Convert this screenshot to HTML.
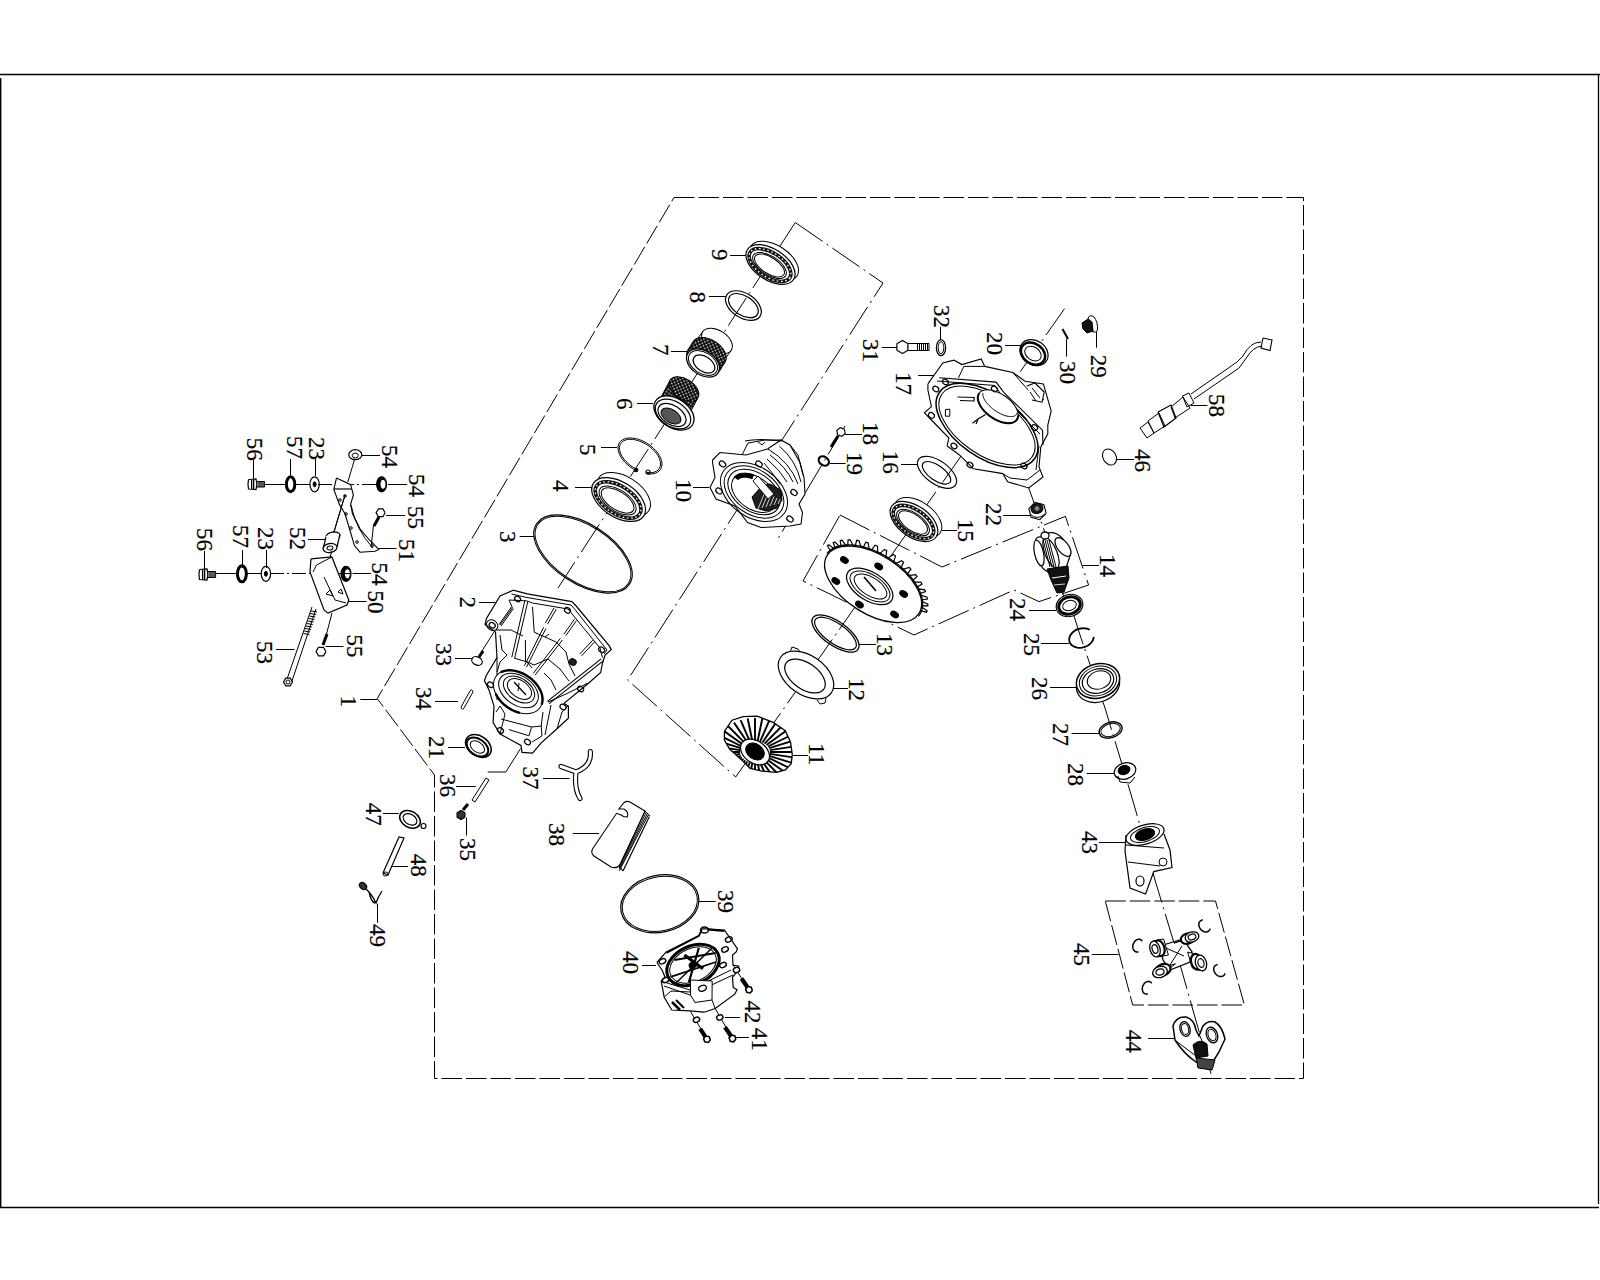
<!DOCTYPE html>
<html><head><meta charset="utf-8"><style>
html,body{margin:0;padding:0;background:#fff;width:1600px;height:1280px;overflow:hidden}
svg{display:block}
text{font-family:"Liberation Serif",serif;fill:#000}
</style></head><body>
<svg width="1600" height="1280" viewBox="0 0 1600 1280" stroke-linecap="butt">
<defs><pattern id="knurl" width="3" height="3" patternUnits="userSpaceOnUse" patternTransform="rotate(33)"><rect width="3" height="3" fill="#000"/><circle cx="1.5" cy="1.5" r="0.85" fill="#fff"/></pattern></defs>
<line x1="0" y1="74.5" x2="1600" y2="74.5" stroke="#000" stroke-width="1.3"/>
<line x1="1598.5" y1="74" x2="1598.5" y2="1204" stroke="#000" stroke-width="1.3"/>
<line x1="0.7" y1="78" x2="0.7" y2="1207" stroke="#000" stroke-width="1.4"/>
<line x1="0" y1="1207.5" x2="1599" y2="1207.5" stroke="#000" stroke-width="1.3"/>
<polyline points="674,197.5 1303.5,197.5 1303.5,1078.5 434.5,1078.5 434.5,775 377.2,698.5 674,197.5" fill="none" stroke="#000" stroke-width="1" stroke-dasharray="20.5 4"/>
<polyline points="795.3,222.5 883,283 627.6,680 735.7,777" fill="none" stroke="#000" stroke-width="1" stroke-dasharray="33 5 2 5"/>
<line x1="795.3" y1="222.5" x2="558" y2="588" stroke="#000" stroke-width="1" stroke-dasharray="33 5 2 5"/>
<line x1="735.7" y1="777" x2="1064.5" y2="308.7" stroke="#000" stroke-width="1" stroke-dasharray="33 5 2 5"/>
<line x1="845" y1="426" x2="776" y2="542" stroke="#000" stroke-width="1" stroke-dasharray="33 5 2 5"/>
<polyline points="1028,486 1037,511 1045,532.5 1061.8,592 1074,616 1080,635 1095,679 1105,708 1126.9,780.6 1139.4,823.1 1155,880 1173.1,940 1211,1073.8" fill="none" stroke="#000" stroke-width="1" stroke-dasharray="33 5 2 5"/>
<polyline points="840,515 942,567 1065.4,516.3 1088.6,585 1039,601.6 1014,590 914,635 803,581 840,515" fill="none" stroke="#000" stroke-width="1" stroke-dasharray="33 5 2 5"/>
<polyline points="1105.3,901 1215.5,901 1244.4,1005 1132.7,1005 1105.3,901" fill="none" stroke="#000" stroke-width="1" stroke-dasharray="20.5 4"/>
<text transform="translate(340.6,695.6) rotate(90)" font-size="23" stroke="#000" stroke-width="0.2">1</text>
<line x1="360.3" y1="699.5" x2="377.2" y2="699.5" stroke="#000" stroke-width="1"/>
<text transform="translate(459.5,596.5) rotate(90)" font-size="23" stroke="#000" stroke-width="0.2">2</text>
<line x1="479" y1="602.5" x2="495.5" y2="602.5" stroke="#000" stroke-width="1"/>
<text transform="translate(500,531) rotate(90)" font-size="23" stroke="#000" stroke-width="0.2">3</text>
<line x1="519.7" y1="536.5" x2="534.7" y2="536.5" stroke="#000" stroke-width="1"/>
<text transform="translate(552.5,480) rotate(90)" font-size="23" stroke="#000" stroke-width="0.2">4</text>
<line x1="575" y1="487.5" x2="592" y2="487.5" stroke="#000" stroke-width="1"/>
<text transform="translate(580,444) rotate(90)" font-size="23" stroke="#000" stroke-width="0.2">5</text>
<line x1="601" y1="447.5" x2="617" y2="447.5" stroke="#000" stroke-width="1"/>
<text transform="translate(617,398) rotate(90)" font-size="23" stroke="#000" stroke-width="0.2">6</text>
<line x1="637" y1="403.5" x2="653" y2="403.5" stroke="#000" stroke-width="1"/>
<text transform="translate(653,344) rotate(90)" font-size="23" stroke="#000" stroke-width="0.2">7</text>
<line x1="671" y1="351.5" x2="688" y2="351.5" stroke="#000" stroke-width="1"/>
<text transform="translate(690,291.5) rotate(90)" font-size="23" stroke="#000" stroke-width="0.2">8</text>
<line x1="708.8" y1="296.5" x2="725.6" y2="296.5" stroke="#000" stroke-width="1"/>
<text transform="translate(711.6,249) rotate(90)" font-size="23" stroke="#000" stroke-width="0.2">9</text>
<line x1="730" y1="255.5" x2="747" y2="255.5" stroke="#000" stroke-width="1"/>
<text transform="translate(676,479) rotate(90)" font-size="23" stroke="#000" stroke-width="0.2">10</text>
<line x1="693" y1="487.5" x2="709" y2="487.5" stroke="#000" stroke-width="1"/>
<text transform="translate(808.8,743) rotate(90)" font-size="23" stroke="#000" stroke-width="0.2">11</text>
<line x1="792.6" y1="755.5" x2="808" y2="755.5" stroke="#000" stroke-width="1"/>
<text transform="translate(849,678) rotate(90)" font-size="23" stroke="#000" stroke-width="0.2">12</text>
<line x1="833" y1="688.5" x2="848" y2="688.5" stroke="#000" stroke-width="1"/>
<text transform="translate(877,633) rotate(90)" font-size="23" stroke="#000" stroke-width="0.2">13</text>
<line x1="859" y1="644.5" x2="876" y2="644.5" stroke="#000" stroke-width="1"/>
<text transform="translate(1100,554) rotate(90)" font-size="23" stroke="#000" stroke-width="0.2">14</text>
<line x1="1082.5" y1="565.5" x2="1099" y2="565.5" stroke="#000" stroke-width="1"/>
<text transform="translate(958,519) rotate(90)" font-size="23" stroke="#000" stroke-width="0.2">15</text>
<line x1="942" y1="530.5" x2="957" y2="530.5" stroke="#000" stroke-width="1"/>
<text transform="translate(883,450.7) rotate(90)" font-size="23" stroke="#000" stroke-width="0.2">16</text>
<line x1="901" y1="464.5" x2="917.4" y2="464.5" stroke="#000" stroke-width="1"/>
<text transform="translate(896,372) rotate(90)" font-size="23" stroke="#000" stroke-width="0.2">17</text>
<line x1="918" y1="375.5" x2="934.5" y2="375.5" stroke="#000" stroke-width="1"/>
<text transform="translate(863,422) rotate(90)" font-size="23" stroke="#000" stroke-width="0.2">18</text>
<line x1="845" y1="434.5" x2="862" y2="434.5" stroke="#000" stroke-width="1"/>
<text transform="translate(847,452) rotate(90)" font-size="23" stroke="#000" stroke-width="0.2">19</text>
<line x1="830" y1="463.5" x2="845.6" y2="463.5" stroke="#000" stroke-width="1"/>
<text transform="translate(986.5,332) rotate(90)" font-size="23" stroke="#000" stroke-width="0.2">20</text>
<line x1="1005" y1="345.5" x2="1020.6" y2="345.5" stroke="#000" stroke-width="1"/>
<text transform="translate(428.8,736) rotate(90)" font-size="23" stroke="#000" stroke-width="0.2">21</text>
<line x1="448" y1="747.5" x2="465" y2="747.5" stroke="#000" stroke-width="1"/>
<text transform="translate(986,503) rotate(90)" font-size="23" stroke="#000" stroke-width="0.2">22</text>
<line x1="1003" y1="515.5" x2="1030" y2="515.5" stroke="#000" stroke-width="1"/>
<text transform="translate(1010,598) rotate(90)" font-size="23" stroke="#000" stroke-width="0.2">24</text>
<line x1="1029" y1="610.5" x2="1056" y2="610.5" stroke="#000" stroke-width="1"/>
<text transform="translate(1024,633) rotate(90)" font-size="23" stroke="#000" stroke-width="0.2">25</text>
<line x1="1041" y1="643.5" x2="1069" y2="643.5" stroke="#000" stroke-width="1"/>
<text transform="translate(1032,677) rotate(90)" font-size="23" stroke="#000" stroke-width="0.2">26</text>
<line x1="1050" y1="687.5" x2="1077" y2="687.5" stroke="#000" stroke-width="1"/>
<text transform="translate(1053,723) rotate(90)" font-size="23" stroke="#000" stroke-width="0.2">27</text>
<line x1="1071.5" y1="733.5" x2="1099" y2="733.5" stroke="#000" stroke-width="1"/>
<text transform="translate(1068,763) rotate(90)" font-size="23" stroke="#000" stroke-width="0.2">28</text>
<line x1="1086.7" y1="773.5" x2="1115" y2="773.5" stroke="#000" stroke-width="1"/>
<text transform="translate(863,339) rotate(90)" font-size="23" stroke="#000" stroke-width="0.2">31</text>
<line x1="881.7" y1="347.5" x2="897" y2="347.5" stroke="#000" stroke-width="1"/>
<text transform="translate(436,643) rotate(90)" font-size="23" stroke="#000" stroke-width="0.2">33</text>
<line x1="455" y1="658.5" x2="472" y2="658.5" stroke="#000" stroke-width="1"/>
<text transform="translate(415.6,687) rotate(90)" font-size="23" stroke="#000" stroke-width="0.2">34</text>
<line x1="435" y1="701.5" x2="458" y2="701.5" stroke="#000" stroke-width="1"/>
<text transform="translate(440,774) rotate(90)" font-size="23" stroke="#000" stroke-width="0.2">36</text>
<line x1="456" y1="786.5" x2="475.6" y2="786.5" stroke="#000" stroke-width="1"/>
<text transform="translate(522.7,766.6) rotate(90)" font-size="23" stroke="#000" stroke-width="0.2">37</text>
<line x1="543" y1="778.5" x2="569.5" y2="778.5" stroke="#000" stroke-width="1"/>
<text transform="translate(549,823) rotate(90)" font-size="23" stroke="#000" stroke-width="0.2">38</text>
<line x1="572.7" y1="833.5" x2="599" y2="833.5" stroke="#000" stroke-width="1"/>
<text transform="translate(718,890) rotate(90)" font-size="23" stroke="#000" stroke-width="0.2">39</text>
<line x1="699" y1="901.5" x2="715.6" y2="901.5" stroke="#000" stroke-width="1"/>
<text transform="translate(622.7,951) rotate(90)" font-size="23" stroke="#000" stroke-width="0.2">40</text>
<line x1="642" y1="965.5" x2="656" y2="965.5" stroke="#000" stroke-width="1"/>
<text transform="translate(752.3,1027.8) rotate(90)" font-size="23" stroke="#000" stroke-width="0.2">41</text>
<line x1="734" y1="1037.5" x2="749" y2="1037.5" stroke="#000" stroke-width="1"/>
<text transform="translate(744.5,1000.4) rotate(90)" font-size="23" stroke="#000" stroke-width="0.2">42</text>
<line x1="725" y1="1017.5" x2="740" y2="1017.5" stroke="#000" stroke-width="1"/>
<text transform="translate(1081.6,831) rotate(90)" font-size="23" stroke="#000" stroke-width="0.2">43</text>
<line x1="1099" y1="842.5" x2="1126" y2="842.5" stroke="#000" stroke-width="1"/>
<text transform="translate(1125.6,1029.8) rotate(90)" font-size="23" stroke="#000" stroke-width="0.2">44</text>
<line x1="1148" y1="1038.5" x2="1174" y2="1038.5" stroke="#000" stroke-width="1"/>
<text transform="translate(1074,943) rotate(90)" font-size="23" stroke="#000" stroke-width="0.2">45</text>
<line x1="1092" y1="954.5" x2="1118.6" y2="954.5" stroke="#000" stroke-width="1"/>
<text transform="translate(1135,449) rotate(90)" font-size="23" stroke="#000" stroke-width="0.2">46</text>
<line x1="1117" y1="459.5" x2="1134" y2="459.5" stroke="#000" stroke-width="1"/>
<text transform="translate(365.5,802.7) rotate(90)" font-size="23" stroke="#000" stroke-width="0.2">47</text>
<line x1="382.8" y1="813.5" x2="398.8" y2="813.5" stroke="#000" stroke-width="1"/>
<text transform="translate(411,853.7) rotate(90)" font-size="23" stroke="#000" stroke-width="0.2">48</text>
<line x1="391" y1="866.5" x2="408" y2="866.5" stroke="#000" stroke-width="1"/>
<text transform="translate(368.4,590.5) rotate(90)" font-size="23" stroke="#000" stroke-width="0.2">50</text>
<line x1="347.8" y1="601.5" x2="366.6" y2="601.5" stroke="#000" stroke-width="1"/>
<text transform="translate(398.5,539) rotate(90)" font-size="23" stroke="#000" stroke-width="0.2">51</text>
<line x1="378.8" y1="548.5" x2="396.5" y2="548.5" stroke="#000" stroke-width="1"/>
<text transform="translate(290,527) rotate(90)" font-size="23" stroke="#000" stroke-width="0.2">52</text>
<line x1="308" y1="539.5" x2="325" y2="539.5" stroke="#000" stroke-width="1"/>
<text transform="translate(257,641) rotate(90)" font-size="23" stroke="#000" stroke-width="0.2">53</text>
<line x1="276" y1="649.5" x2="294.4" y2="649.5" stroke="#000" stroke-width="1"/>
<text transform="translate(381.6,445) rotate(90)" font-size="23" stroke="#000" stroke-width="0.2">54</text>
<line x1="362" y1="455.5" x2="380" y2="455.5" stroke="#000" stroke-width="1"/>
<text transform="translate(408.8,474) rotate(90)" font-size="23" stroke="#000" stroke-width="0.2">54</text>
<line x1="388" y1="484.5" x2="407" y2="484.5" stroke="#000" stroke-width="1"/>
<text transform="translate(372,562.4) rotate(90)" font-size="23" stroke="#000" stroke-width="0.2">54</text>
<line x1="352.5" y1="573.5" x2="370" y2="573.5" stroke="#000" stroke-width="1"/>
<text transform="translate(408,506) rotate(90)" font-size="23" stroke="#000" stroke-width="0.2">55</text>
<line x1="386" y1="515.5" x2="405" y2="515.5" stroke="#000" stroke-width="1"/>
<text transform="translate(347,634.6) rotate(90)" font-size="23" stroke="#000" stroke-width="0.2">55</text>
<line x1="325.6" y1="646.5" x2="343.4" y2="646.5" stroke="#000" stroke-width="1"/>
<text transform="translate(1209,394) rotate(90)" font-size="23" stroke="#000" stroke-width="0.2">58</text>
<line x1="1191" y1="405.5" x2="1207.5" y2="405.5" stroke="#000" stroke-width="1"/>
<text transform="translate(1091,354.8) rotate(90)" font-size="23" stroke="#000" stroke-width="0.2">29</text>
<line x1="1096.5" y1="331" x2="1096.5" y2="347.7" stroke="#000" stroke-width="1"/>
<text transform="translate(1059.6,361) rotate(90)" font-size="23" stroke="#000" stroke-width="0.2">30</text>
<line x1="1066.5" y1="339" x2="1066.5" y2="356.6" stroke="#000" stroke-width="1"/>
<text transform="translate(933.7,305) rotate(90)" font-size="23" stroke="#000" stroke-width="0.2">32</text>
<line x1="940.5" y1="326.6" x2="940.5" y2="340" stroke="#000" stroke-width="1"/>
<text transform="translate(460,838) rotate(90)" font-size="23" stroke="#000" stroke-width="0.2">35</text>
<line x1="466.5" y1="817.6" x2="466.5" y2="835.6" stroke="#000" stroke-width="1"/>
<text transform="translate(369.7,924) rotate(90)" font-size="23" stroke="#000" stroke-width="0.2">49</text>
<line x1="377.5" y1="903.6" x2="377.5" y2="922.7" stroke="#000" stroke-width="1"/>
<text transform="translate(246.6,437.8) rotate(90)" font-size="23" stroke="#000" stroke-width="0.2">56</text>
<line x1="253.5" y1="460" x2="253.5" y2="480" stroke="#000" stroke-width="1"/>
<text transform="translate(287,436) rotate(90)" font-size="23" stroke="#000" stroke-width="0.2">57</text>
<line x1="290.5" y1="459" x2="290.5" y2="476" stroke="#000" stroke-width="1"/>
<text transform="translate(309,437) rotate(90)" font-size="23" stroke="#000" stroke-width="0.2">23</text>
<line x1="315.5" y1="459" x2="315.5" y2="476" stroke="#000" stroke-width="1"/>
<text transform="translate(197,528) rotate(90)" font-size="23" stroke="#000" stroke-width="0.2">56</text>
<line x1="204.5" y1="551" x2="204.5" y2="570" stroke="#000" stroke-width="1"/>
<text transform="translate(232.5,525) rotate(90)" font-size="23" stroke="#000" stroke-width="0.2">57</text>
<line x1="242.5" y1="550" x2="242.5" y2="568" stroke="#000" stroke-width="1"/>
<text transform="translate(257.8,527) rotate(90)" font-size="23" stroke="#000" stroke-width="0.2">23</text>
<line x1="266.5" y1="550" x2="266.5" y2="568" stroke="#000" stroke-width="1"/>
<ellipse cx="774" cy="261" rx="27.5" ry="15.5" fill="#fff" stroke="#000" stroke-width="1" transform="rotate(33 774 261)"/>
<ellipse cx="770.5" cy="264.5" rx="27.5" ry="15.5" fill="#fff" stroke="#000" stroke-width="1.2" transform="rotate(33 770.5 264.5)"/>
<ellipse cx="770" cy="265" rx="23.6" ry="12.2" fill="none" stroke="#111" stroke-width="3.6" transform="rotate(33 770 265)"/>
<ellipse cx="770" cy="265" rx="23.6" ry="12.2" fill="none" stroke="#fff" stroke-width="1.3" stroke-dasharray="1.6 2.6" transform="rotate(33 770 265)"/>
<ellipse cx="769.5" cy="265.5" rx="19.2" ry="9.3" fill="none" stroke="#000" stroke-width="1" transform="rotate(33 769.5 265.5)"/>
<ellipse cx="769.5" cy="265.5" rx="17.1" ry="8.1" fill="none" stroke="#000" stroke-width="1" transform="rotate(33 769.5 265.5)"/>
<ellipse cx="743.4" cy="305.6" rx="19.8" ry="12.2" fill="none" stroke="#000" stroke-width="1.2" transform="rotate(33 743.4 305.6)"/>
<ellipse cx="743.4" cy="305.6" rx="16.6" ry="9.6" fill="none" stroke="#000" stroke-width="1.2" transform="rotate(33 743.4 305.6)"/>
<ellipse cx="709" cy="352" rx="17" ry="10.5" fill="#fff" stroke="#000" stroke-width="1" transform="rotate(33 709 352)"/>
<polygon points="731.3,350.3 723.3,361.3 694.7,342.7 702.7,331.7" fill="#fff" stroke="none"/>
<line x1="731.3" y1="350.3" x2="723.3" y2="361.3" stroke="#000" stroke-width="1"/>
<line x1="702.7" y1="331.7" x2="694.7" y2="342.7" stroke="#000" stroke-width="1"/>
<ellipse cx="717" cy="341" rx="17" ry="10.5" fill="#fff" stroke="#000" stroke-width="1" transform="rotate(33 717 341)"/>
<ellipse cx="704" cy="360" rx="19" ry="12" fill="url(#knurl)" stroke="#000" stroke-width="1" transform="rotate(33 704 360)"/>
<polygon points="724.9,362.3 719.9,370.3 688.1,349.7 693.1,341.7" fill="url(#knurl)" stroke="none"/>
<line x1="724.9" y1="362.3" x2="719.9" y2="370.3" stroke="#000" stroke-width="1"/>
<line x1="693.1" y1="341.7" x2="688.1" y2="349.7" stroke="#000" stroke-width="1"/>
<ellipse cx="709" cy="352" rx="19" ry="12" fill="url(#knurl)" stroke="#000" stroke-width="1" transform="rotate(33 709 352)"/>
<ellipse cx="703" cy="363" rx="18" ry="12" fill="#fff" stroke="#000" stroke-width="1.3" transform="rotate(33 703 363)"/>
<ellipse cx="703" cy="363" rx="16" ry="10.5" fill="none" stroke="#000" stroke-width="1" transform="rotate(33 703 363)"/>
<ellipse cx="704" cy="364" rx="12" ry="7.5" fill="none" stroke="#000" stroke-width="1.2" transform="rotate(33 704 364)"/>
<ellipse cx="676" cy="404" rx="16.5" ry="10" fill="url(#knurl)" stroke="#000" stroke-width="1" transform="rotate(33 676 404)"/>
<polygon points="697.8,398 689.8,413 662.2,395 670.2,380" fill="url(#knurl)" stroke="none"/>
<line x1="697.8" y1="398" x2="689.8" y2="413" stroke="#000" stroke-width="1"/>
<line x1="670.2" y1="380" x2="662.2" y2="395" stroke="#000" stroke-width="1"/>
<ellipse cx="684" cy="389" rx="16.5" ry="10" fill="url(#knurl)" stroke="#000" stroke-width="1" transform="rotate(33 684 389)"/>
<ellipse cx="674" cy="413" rx="22" ry="14.5" fill="#fff" stroke="#000" stroke-width="1.3" transform="rotate(33 674 413)"/>
<ellipse cx="673" cy="414" rx="19.5" ry="12.5" fill="none" stroke="#000" stroke-width="1.2" transform="rotate(33 673 414)"/>
<ellipse cx="672" cy="415" rx="15.5" ry="9.5" fill="none" stroke="#000" stroke-width="1.2" transform="rotate(33 672 415)"/>
<ellipse cx="671" cy="416" rx="11" ry="6.5" fill="#555" stroke="#000" stroke-width="1" transform="rotate(33 671 416)"/>
<polyline points="635.8,470.3 632.7,468.6 629.8,466.6 627.1,464.4 624.7,462 622.6,459.5 620.8,456.9 619.5,454.3 618.5,451.7 618.1,449.3 618,446.9 618.5,444.8 619.3,442.9 620.6,441.2 622.3,439.9 624.4,438.9 626.8,438.2 629.4,438 632.3,438.1 635.3,438.5 638.5,439.3 641.6,440.5 644.8,442 647.8,443.8 650.7,445.8 653.3,448.1 655.7,450.5 657.8,453 659.4,455.6 660.7,458.2 661.6,460.7 662,463.2 661.9,465.5 661.4,467.6 660.5,469.4 659.1,471 657.3,472.3 655.2,473.3 652.8,473.8 650.1,474.1 647.2,473.9" fill="none" stroke="#000" stroke-width="1"/>
<polyline points="636.3,469.1 633.4,467.4 630.7,465.6 628.1,463.5 625.8,461.3 623.8,459 622.2,456.6 620.9,454.2 620,451.8 619.5,449.5 619.4,447.4 619.8,445.4 620.6,443.7 621.8,442.2 623.3,441 625.2,440.1 627.5,439.5 629.9,439.3 632.6,439.4 635.4,439.9 638.4,440.7 641.3,441.8 644.3,443.2 647.1,444.9 649.8,446.8 652.3,448.9 654.5,451.1 656.5,453.5 658.1,455.9 659.3,458.3 660.1,460.6 660.5,462.9 660.5,465 660.1,466.9 659.2,468.6 658,470.1 656.3,471.2 654.4,472.1 652.1,472.6 649.6,472.7 646.9,472.5" fill="none" stroke="#000" stroke-width="1"/>
<ellipse cx="636" cy="470" rx="1.6" ry="1.6" fill="#000" stroke="#000" stroke-width="1.5"/>
<ellipse cx="648" cy="472" rx="2" ry="2" fill="none" stroke="#000" stroke-width="1.2"/>
<ellipse cx="623.6" cy="494.5" rx="30" ry="17.5" fill="#fff" stroke="#000" stroke-width="1" transform="rotate(33 623.6 494.5)"/>
<ellipse cx="618.6" cy="499.5" rx="30" ry="17.5" fill="#fff" stroke="#000" stroke-width="1.2" transform="rotate(33 618.6 499.5)"/>
<ellipse cx="618.1" cy="500" rx="25.8" ry="13.8" fill="none" stroke="#111" stroke-width="3.6" transform="rotate(33 618.1 500)"/>
<ellipse cx="618.1" cy="500" rx="25.8" ry="13.8" fill="none" stroke="#fff" stroke-width="1.3" stroke-dasharray="1.6 2.6" transform="rotate(33 618.1 500)"/>
<ellipse cx="617.6" cy="500.5" rx="21" ry="10.5" fill="none" stroke="#000" stroke-width="1" transform="rotate(33 617.6 500.5)"/>
<ellipse cx="617.6" cy="500.5" rx="18.6" ry="9.1" fill="none" stroke="#000" stroke-width="1" transform="rotate(33 617.6 500.5)"/>
<ellipse cx="583" cy="554" rx="55.4" ry="29.6" fill="none" stroke="#000" stroke-width="1.1" transform="rotate(33 583 554)"/>
<ellipse cx="583" cy="554" rx="54" ry="28.3" fill="none" stroke="#000" stroke-width="1" transform="rotate(33 583 554)"/>
<polyline points="513.2,590.2 527.2,593.8 571.9,601.6 576.2,606 609.5,646.2 611.2,649.7 605.1,655 602.5,663 600.7,672.5 588.5,683.2 564,703.4 568.4,706 568.4,718.2 557,728.8 541.2,742.8 532.5,753.2 522,752.4 521,745.4 500,734 493.1,722.6 494,706 488.8,689.4 484.4,680.6 486,676 497,657.5 495.5,632 485,624.5 486.5,618.5 500,596 513.2,590.2" fill="#fff" stroke="#000" stroke-width="1.2"/>
<polyline points="511.5,594 527,597.5 571,605 575,609.5 607,650 604,654" fill="none" stroke="#000" stroke-width="1"/>
<polyline points="509,600 526.4,600.8 532.5,603 568,609 600,648 602.5,657.6" fill="none" stroke="#000" stroke-width="1"/>
<polyline points="500,625 512.4,607.8 509,600" fill="none" stroke="#000" stroke-width="1"/>
<line x1="524.9" y1="600.4" x2="511.8" y2="657.3" stroke="#000" stroke-width="1"/>
<line x1="527.9" y1="601.1" x2="514.7" y2="657.9" stroke="#000" stroke-width="1"/>
<line x1="554.1" y1="608" x2="545.4" y2="622.9" stroke="#000" stroke-width="1"/>
<line x1="556.3" y1="609.2" x2="547.6" y2="624.1" stroke="#000" stroke-width="1"/>
<line x1="543.6" y1="627.3" x2="524.4" y2="665.8" stroke="#000" stroke-width="1"/>
<line x1="545.9" y1="628.5" x2="526.6" y2="667" stroke="#000" stroke-width="1"/>
<line x1="560.4" y1="638.4" x2="533.2" y2="673.4" stroke="#000" stroke-width="1"/>
<line x1="562.4" y1="640" x2="535.2" y2="675" stroke="#000" stroke-width="1"/>
<line x1="574.4" y1="619.3" x2="563.9" y2="634.2" stroke="#000" stroke-width="1"/>
<line x1="576.4" y1="620.7" x2="565.9" y2="635.6" stroke="#000" stroke-width="1"/>
<line x1="592.8" y1="640.1" x2="579.7" y2="654.1" stroke="#000" stroke-width="1"/>
<line x1="594.6" y1="641.9" x2="581.5" y2="655.9" stroke="#000" stroke-width="1"/>
<line x1="601.1" y1="658.9" x2="547.4" y2="701.4" stroke="#000" stroke-width="1.2"/>
<line x1="602.9" y1="661.1" x2="549.1" y2="703.6" stroke="#000" stroke-width="1.2"/>
<line x1="511.4" y1="607" x2="499.1" y2="624.5" stroke="#000" stroke-width="1"/>
<line x1="513.4" y1="608.5" x2="501.1" y2="626" stroke="#000" stroke-width="1"/>
<polyline points="532.5,606.9 534.2,632.2 545,637 549,634" fill="none" stroke="#000" stroke-width="1"/>
<polyline points="525.4,640 525.5,661 534,665 548,659 560,669 569,681" fill="none" stroke="#000" stroke-width="1"/>
<polyline points="514,658 527,662 532,668" fill="none" stroke="#000" stroke-width="1"/>
<polyline points="545,637 556,642 566,652 569,664 575,676" fill="none" stroke="#000" stroke-width="1"/>
<polyline points="544,673 551,680 556,690" fill="none" stroke="#000" stroke-width="1"/>
<polyline points="500,635 502,650 507,655 500,662 497,672" fill="none" stroke="#000" stroke-width="1"/>
<polyline points="496,630 511,630 523,636" fill="none" stroke="#000" stroke-width="1"/>
<polyline points="497,657.5 497,700" fill="none" stroke="#000" stroke-width="1"/>
<ellipse cx="518" cy="692" rx="27" ry="18.5" fill="#fff" stroke="#000" stroke-width="1" transform="rotate(35 518 692)"/>
<polyline points="500.8,672.3 502,671.7 503.3,671.3 504.6,670.9 506,670.6 507.4,670.4 508.9,670.3 510.4,670.3 511.9,670.4 513.5,670.6 515.1,670.9 516.7,671.3 518.3,671.7 519.9,672.3 521.5,672.9 523.1,673.6 524.6,674.4 526.1,675.2 527.6,676.2 529.1,677.2 530.5,678.3 531.9,679.4 533.1,680.6 534.4,681.8 535.5,683.1 536.6,684.4 537.6,685.7 538.5,687.1 539.4,688.5 540.1,689.9 540.8,691.3 541.3,692.7 541.8,694.1 542.1,695.5 542.4,696.9 542.5,698.3 542.5,699.6 542.5,700.9 542.3,702.2 542,703.4 541.6,704.6" fill="none" stroke="#000" stroke-width="2.4"/>
<polyline points="519.9,712.9 519.1,712.7 518.4,712.5 517.6,712.2 516.9,712 516.1,711.7 515.4,711.5 514.6,711.2 513.9,710.8 513.2,710.5 512.4,710.1 511.7,709.8 511,709.4 510.3,709 509.6,708.6 508.9,708.1 508.2,707.7 507.5,707.2 506.8,706.7 506.2,706.3 505.5,705.7 504.9,705.2 504.2,704.7 503.6,704.2 503,703.6 502.4,703 501.9,702.5 501.3,701.9 500.8,701.3 500.2,700.7 499.7,700.1 499.2,699.5 498.8,698.8 498.3,698.2 497.9,697.6 497.5,696.9 497.1,696.3 496.7,695.6 496.3,695 496,694.3 495.7,693.7" fill="none" stroke="#000" stroke-width="2.4"/>
<ellipse cx="518.5" cy="690.5" rx="22" ry="14.5" fill="none" stroke="#000" stroke-width="1" transform="rotate(35 518.5 690.5)"/>
<ellipse cx="519" cy="689.5" rx="17.5" ry="11" fill="none" stroke="#000" stroke-width="1" transform="rotate(35 519 689.5)"/>
<ellipse cx="519.5" cy="689" rx="13.5" ry="8.5" fill="none" stroke="#000" stroke-width="1" transform="rotate(35 519.5 689)"/>
<line x1="514" y1="682" x2="526" y2="695" stroke="#000" stroke-width="1.3"/>
<line x1="519" y1="683" x2="518" y2="691" stroke="#000" stroke-width="1"/>
<polyline points="501,719 531.6,727 541.2,726 543,712" fill="none" stroke="#000" stroke-width="1"/>
<polyline points="508.9,729.6 529,735.8 531.6,727" fill="none" stroke="#000" stroke-width="1"/>
<polyline points="541.2,726 542,736 532,742" fill="none" stroke="#000" stroke-width="1"/>
<polyline points="496,712 500,706 505,714 500,734" fill="none" stroke="#000" stroke-width="1"/>
<polyline points="548,702 566,694 588,683" fill="none" stroke="#000" stroke-width="1"/>
<polyline points="551,705 545,735" fill="none" stroke="#000" stroke-width="1"/>
<polyline points="557,728.8 562,712 568,706" fill="none" stroke="#000" stroke-width="1"/>
<ellipse cx="517.6" cy="599" rx="3.2" ry="2.5" fill="none" stroke="#000" stroke-width="1.2" transform="rotate(35 517.6 599)"/>
<ellipse cx="567.5" cy="610.4" rx="3.2" ry="2.5" fill="none" stroke="#000" stroke-width="1.2" transform="rotate(35 567.5 610.4)"/>
<ellipse cx="601.6" cy="649.8" rx="3.2" ry="2.5" fill="none" stroke="#000" stroke-width="1.2" transform="rotate(35 601.6 649.8)"/>
<ellipse cx="492.2" cy="625.2" rx="3.2" ry="2.5" fill="none" stroke="#000" stroke-width="1.2" transform="rotate(35 492.2 625.2)"/>
<ellipse cx="490.5" cy="684.8" rx="3.2" ry="2.5" fill="none" stroke="#000" stroke-width="1.2" transform="rotate(35 490.5 684.8)"/>
<ellipse cx="500.5" cy="730.5" rx="3.2" ry="2.5" fill="none" stroke="#000" stroke-width="1.2" transform="rotate(35 500.5 730.5)"/>
<ellipse cx="527.5" cy="742" rx="3.2" ry="2.5" fill="none" stroke="#000" stroke-width="1.2" transform="rotate(35 527.5 742)"/>
<ellipse cx="580.6" cy="689" rx="3.2" ry="2.5" fill="none" stroke="#000" stroke-width="1.2" transform="rotate(35 580.6 689)"/>
<ellipse cx="563" cy="707" rx="3.2" ry="2.5" fill="none" stroke="#000" stroke-width="1.2" transform="rotate(35 563 707)"/>
<ellipse cx="572.8" cy="662" rx="3.5" ry="3" fill="#222" stroke="#000" stroke-width="1.2" transform="rotate(35 572.8 662)"/>
<ellipse cx="492.2" cy="625.2" rx="6" ry="5" fill="none" stroke="#000" stroke-width="1" transform="rotate(35 492.2 625.2)"/>
<polyline points="712.5,460 720,452.5 746,455 755,452.5 767.5,449 781,440 790,445 800,462.5 804,477.5 805,494 799,504 802.5,512.5 801,524 790,526 761,527.5 747.5,522.5 735,506 716,499 710,487.5 715,477.5 712.5,462.5 712.5,460" fill="#fff" stroke="#000" stroke-width="1.1"/>
<polyline points="742,455 748,443 765,440 781,440" fill="none" stroke="#000" stroke-width="1"/>
<polyline points="790,445 798,455 803,475" fill="none" stroke="#000" stroke-width="1"/>
<ellipse cx="754" cy="492" rx="37" ry="25" fill="none" stroke="#000" stroke-width="1" transform="rotate(35 754 492)"/>
<ellipse cx="754" cy="492" rx="33" ry="22" fill="none" stroke="#000" stroke-width="1" transform="rotate(35 754 492)"/>
<ellipse cx="754" cy="492" rx="29" ry="19" fill="none" stroke="#000" stroke-width="1" transform="rotate(35 754 492)"/>
<ellipse cx="754" cy="493" rx="25" ry="16" fill="none" stroke="#000" stroke-width="1" transform="rotate(35 754 493)"/>
<path d="M779.4,446.2 Q796,460 801,482" fill="none" stroke="#000" stroke-width="1"/>
<path d="M768,449 Q790,462 798,484" fill="none" stroke="#000" stroke-width="1"/>
<path d="M770,455 Q786,467 793,482" fill="none" stroke="#000" stroke-width="1"/>
<path d="M767,459 Q780,470 787,482" fill="none" stroke="#000" stroke-width="1"/>
<path d="M764,463 Q772,472 780,484" fill="none" stroke="#000" stroke-width="1"/>
<polyline points="745,441 752,440 762,439.5 782,441" fill="none" stroke="#000" stroke-width="1.2"/>
<path d="M758,442 l4,3 l3,-3" fill="none" stroke="#000" stroke-width="1"/>
<polyline points="736.1,478.6 736.3,478.3 736.5,478.1 736.8,477.8 737.1,477.6 737.3,477.3 737.6,477.1 738,476.9 738.3,476.7 738.6,476.5 739,476.3 739.3,476.2 739.7,476 740.1,475.9 740.5,475.7 740.9,475.6 741.3,475.5 741.7,475.4 742.1,475.4 742.6,475.3 743,475.3 743.5,475.2 743.9,475.2 744.4,475.2 744.9,475.2 745.4,475.2 745.9,475.2 746.4,475.3 746.9,475.3 747.4,475.4 747.9,475.5 748.4,475.6 748.9,475.7 749.5,475.8 750,475.9 750.5,476.1 751.1,476.2 751.6,476.4 752.1,476.6 752.7,476.8 753.2,477" fill="none" stroke="#000" stroke-width="5"/>
<line x1="738" y1="479.4" x2="734.1" y2="476.3" stroke="#000" stroke-width="1"/>
<line x1="739.6" y1="478.1" x2="736.2" y2="474.6" stroke="#000" stroke-width="1"/>
<line x1="741.6" y1="477.3" x2="738.7" y2="473.5" stroke="#000" stroke-width="1"/>
<line x1="743.9" y1="476.9" x2="741.7" y2="472.9" stroke="#000" stroke-width="1"/>
<line x1="746.5" y1="476.9" x2="745" y2="472.9" stroke="#000" stroke-width="1"/>
<line x1="749.2" y1="477.4" x2="748.5" y2="473.4" stroke="#000" stroke-width="1"/>
<line x1="752.1" y1="478.2" x2="752.2" y2="474.4" stroke="#000" stroke-width="1"/>
<path d="M752,497 L762,486 L770,484 L781,490 L782,500 L777,508 L766,511 L756,508 Z" fill="#1e1e1e" stroke="#000" stroke-width="1"/>
<line x1="758" y1="509" x2="765" y2="492" stroke="#fff" stroke-width="0.8"/>
<line x1="762" y1="508" x2="768" y2="493.5" stroke="#fff" stroke-width="0.8"/>
<line x1="766" y1="507" x2="771" y2="495" stroke="#fff" stroke-width="0.8"/>
<line x1="770" y1="506" x2="774" y2="496.5" stroke="#fff" stroke-width="0.8"/>
<line x1="774" y1="505" x2="777" y2="498" stroke="#fff" stroke-width="0.8"/>
<line x1="778" y1="504" x2="780" y2="499.5" stroke="#fff" stroke-width="0.8"/>
<polyline points="753,481 758,476 774,494 768,499 753,481" fill="#fff" stroke="#000" stroke-width="1"/>
<ellipse cx="722.5" cy="464" rx="3.5" ry="2.5" fill="none" stroke="#000" stroke-width="1.2" transform="rotate(35 722.5 464)"/>
<ellipse cx="759" cy="464" rx="3.5" ry="2.5" fill="none" stroke="#000" stroke-width="1.2" transform="rotate(35 759 464)"/>
<ellipse cx="719" cy="491" rx="3.5" ry="2.5" fill="none" stroke="#000" stroke-width="1.2" transform="rotate(35 719 491)"/>
<ellipse cx="794" cy="492.5" rx="3.5" ry="2.5" fill="none" stroke="#000" stroke-width="1.2" transform="rotate(35 794 492.5)"/>
<ellipse cx="790" cy="519" rx="3.5" ry="2.5" fill="none" stroke="#000" stroke-width="1.2" transform="rotate(35 790 519)"/>
<polyline points="845.2,433.5 841.8,436.4 837.6,434.9 836.8,430.5 840.2,427.6 844.4,429.1 845.2,433.5" fill="#fff" stroke="#000" stroke-width="1.2"/>
<line x1="838" y1="436" x2="831" y2="447" stroke="#000" stroke-width="3"/>
<ellipse cx="823.8" cy="461" rx="5.5" ry="4.2" fill="none" stroke="#000" stroke-width="2.2" transform="rotate(35 823.8 461)"/>
<polyline points="830.7,551.3 827.4,545.7 828.8,544.8 834.3,548.9 835.3,548.5 833.2,542.5 834.9,541.9 839.8,547 841,546.7 840.2,540.5 842.1,540.2 846.3,546.1 847.7,546 848.1,539.8 850.2,539.8 853.5,546.3 855,546.5 856.7,540.3 859,540.7 861.3,547.6 862.9,548 865.8,542.2 868.1,542.8 869.4,550 871.1,550.6 875.1,545.2 877.5,546.2 877.7,553.3 879.3,554.1 884.4,549.4 886.7,550.6 885.8,557.6 887.4,558.6 893.3,554.6 895.5,556.1 893.5,562.7 895,563.7 901.7,560.7 903.6,562.3 900.7,568.3 902,569.5 909.2,567.4 910.9,569.2 907,574.5 908.2,575.7 915.7,574.7 917.1,576.5 912.4,580.9 913.4,582.2 920.9,582.2 922,584.1 916.6,587.4 917.3,588.7 924.7,589.8 925.5,591.6 919.6,593.8 920.1,595.1 927.1,597.2 927.4,599 921.2,600 921.4,601.2 927.9,604.2 927.8,605.9 921.5,605.7 921.3,606.7 927.1,610.7 926.6,612.2 920.3,610.7 919.9,611.7" fill="none" stroke="#000" stroke-width="1.2"/>
<ellipse cx="873.1" cy="584.3" rx="54.3" ry="29.4" fill="#fff" stroke="#000" stroke-width="1.3" transform="rotate(32.5 873.1 584.3)"/>
<polyline points="826.9,553.6 828.5,551.7 830.4,550.1 832.5,548.6 834.9,547.4 837.6,546.4 840.4,545.6 843.5,545.1 846.8,544.9 850.2,544.9 853.8,545.1 857.5,545.6 861.3,546.4 865.2,547.4 869.1,548.6 873.1,550.1 877,551.7 881,553.6 884.9,555.7 888.7,557.9 892.4,560.4 896,562.9 899.4,565.6 902.7,568.5 905.7,571.4 908.6,574.4 911.3,577.5 913.7,580.6 915.8,583.8 917.7,586.9 919.3,590 920.6,593.1 921.6,596.2 922.3,599.1 922.6,602 922.7,604.8 922.4,607.4 921.9,609.9 921,612.2 919.8,614.3 918.3,616.3" fill="none" stroke="#000" stroke-width="1.2"/>
<ellipse cx="844.4" cy="560" rx="4.2" ry="2.8" fill="#000" stroke="#000" stroke-width="1" transform="rotate(32.5 844.4 560)"/>
<ellipse cx="878.7" cy="566.4" rx="4.2" ry="2.8" fill="#000" stroke="#000" stroke-width="1" transform="rotate(32.5 878.7 566.4)"/>
<ellipse cx="835.8" cy="581" rx="4.2" ry="2.8" fill="#000" stroke="#000" stroke-width="1" transform="rotate(32.5 835.8 581)"/>
<ellipse cx="903.6" cy="593.9" rx="4.2" ry="2.8" fill="#000" stroke="#000" stroke-width="1" transform="rotate(32.5 903.6 593.9)"/>
<ellipse cx="859.4" cy="604.6" rx="4.2" ry="2.8" fill="#000" stroke="#000" stroke-width="1" transform="rotate(32.5 859.4 604.6)"/>
<ellipse cx="894.6" cy="614.5" rx="4.2" ry="2.8" fill="#000" stroke="#000" stroke-width="1" transform="rotate(32.5 894.6 614.5)"/>
<ellipse cx="869.7" cy="586.4" rx="26" ry="14" fill="#fff" stroke="#000" stroke-width="1.2" transform="rotate(32.5 869.7 586.4)"/>
<ellipse cx="870" cy="586.4" rx="22.5" ry="11.5" fill="none" stroke="#000" stroke-width="1" transform="rotate(32.5 870 586.4)"/>
<ellipse cx="870.5" cy="586.5" rx="18.5" ry="9" fill="none" stroke="#000" stroke-width="1" transform="rotate(32.5 870.5 586.5)"/>
<line x1="864" y1="577" x2="876" y2="591" stroke="#000" stroke-width="1.6"/>
<ellipse cx="918" cy="517.5" rx="27" ry="15.5" fill="#fff" stroke="#000" stroke-width="1" transform="rotate(35 918 517.5)"/>
<ellipse cx="914" cy="521.5" rx="27" ry="15.5" fill="#fff" stroke="#000" stroke-width="1.2" transform="rotate(35 914 521.5)"/>
<ellipse cx="913.5" cy="522" rx="23.2" ry="12.2" fill="none" stroke="#111" stroke-width="3.6" transform="rotate(35 913.5 522)"/>
<ellipse cx="913.5" cy="522" rx="23.2" ry="12.2" fill="none" stroke="#fff" stroke-width="1.3" stroke-dasharray="1.6 2.6" transform="rotate(35 913.5 522)"/>
<ellipse cx="913" cy="522.5" rx="18.9" ry="9.3" fill="none" stroke="#000" stroke-width="1" transform="rotate(35 913 522.5)"/>
<ellipse cx="913" cy="522.5" rx="16.7" ry="8.1" fill="none" stroke="#000" stroke-width="1" transform="rotate(35 913 522.5)"/>
<ellipse cx="835.5" cy="633.5" rx="27.5" ry="12" fill="none" stroke="#000" stroke-width="1.3" transform="rotate(35 835.5 633.5)"/>
<ellipse cx="835.5" cy="633.5" rx="24.5" ry="10" fill="none" stroke="#000" stroke-width="1.2" transform="rotate(35 835.5 633.5)"/>
<path d="M790,652 l2,-5 l6,2 l3,4" fill="#fff" stroke="#000" stroke-width="1"/>
<path d="M817,700 l3,4 l5,-1 l1,-5" fill="#fff" stroke="#000" stroke-width="1"/>
<ellipse cx="806" cy="675" rx="31" ry="19.5" fill="#fff" stroke="#000" stroke-width="1.2" transform="rotate(35 806 675)"/>
<ellipse cx="805" cy="676" rx="23" ry="13" fill="none" stroke="#000" stroke-width="1.2" transform="rotate(35 805 676)"/>
<polyline points="724.4,731.4 732,720.2 743.1,716.7 757.2,716.1 773.6,722.6 785.3,730.8 790.6,742.5 792.3,754.8 791.2,763.6 785.3,770 776.5,772.4 761.9,771.2 750.1,768.3 743.1,761.2 729.6,749 724.4,740.1 724.4,731.4" fill="#fff" stroke="#000" stroke-width="1.3"/>
<line x1="740.9" y1="755.8" x2="715.5" y2="763.6" stroke="#000" stroke-width="1.9" clip-path="url(#c11)"/>
<line x1="740.2" y1="753.9" x2="713.6" y2="757.9" stroke="#000" stroke-width="1.9" clip-path="url(#c11)"/>
<line x1="740" y1="752" x2="713" y2="752" stroke="#000" stroke-width="1.9" clip-path="url(#c11)"/>
<line x1="740.2" y1="750.1" x2="713.6" y2="746.1" stroke="#000" stroke-width="1.9" clip-path="url(#c11)"/>
<line x1="740.9" y1="748.2" x2="715.5" y2="740.4" stroke="#000" stroke-width="1.9" clip-path="url(#c11)"/>
<line x1="742" y1="746.5" x2="718.6" y2="735" stroke="#000" stroke-width="1.9" clip-path="url(#c11)"/>
<line x1="743.5" y1="744.9" x2="722.8" y2="730.1" stroke="#000" stroke-width="1.9" clip-path="url(#c11)"/>
<line x1="745.4" y1="743.6" x2="728" y2="726" stroke="#000" stroke-width="1.9" clip-path="url(#c11)"/>
<line x1="747.5" y1="742.5" x2="734" y2="722.6" stroke="#000" stroke-width="1.9" clip-path="url(#c11)"/>
<line x1="749.9" y1="741.7" x2="740.6" y2="720.1" stroke="#000" stroke-width="1.9" clip-path="url(#c11)"/>
<line x1="752.4" y1="741.2" x2="747.7" y2="718.5" stroke="#000" stroke-width="1.9" clip-path="url(#c11)"/>
<line x1="755" y1="741" x2="755" y2="718" stroke="#000" stroke-width="1.9" clip-path="url(#c11)"/>
<line x1="757.6" y1="741.2" x2="762.3" y2="718.5" stroke="#000" stroke-width="1.9" clip-path="url(#c11)"/>
<line x1="760.1" y1="741.7" x2="769.4" y2="720.1" stroke="#000" stroke-width="1.9" clip-path="url(#c11)"/>
<line x1="762.5" y1="742.5" x2="776" y2="722.6" stroke="#000" stroke-width="1.9" clip-path="url(#c11)"/>
<line x1="764.6" y1="743.6" x2="782" y2="726" stroke="#000" stroke-width="1.9" clip-path="url(#c11)"/>
<line x1="766.5" y1="744.9" x2="787.2" y2="730.1" stroke="#000" stroke-width="1.9" clip-path="url(#c11)"/>
<line x1="768" y1="746.5" x2="791.4" y2="735" stroke="#000" stroke-width="1.9" clip-path="url(#c11)"/>
<line x1="769.1" y1="748.2" x2="794.5" y2="740.4" stroke="#000" stroke-width="1.9" clip-path="url(#c11)"/>
<line x1="769.8" y1="750.1" x2="796.4" y2="746.1" stroke="#000" stroke-width="1.9" clip-path="url(#c11)"/>
<line x1="770" y1="752" x2="797" y2="752" stroke="#000" stroke-width="1.9" clip-path="url(#c11)"/>
<line x1="769.8" y1="753.9" x2="796.4" y2="757.9" stroke="#000" stroke-width="1.9" clip-path="url(#c11)"/>
<line x1="769.1" y1="755.8" x2="794.5" y2="763.6" stroke="#000" stroke-width="1.9" clip-path="url(#c11)"/>
<line x1="768" y1="757.5" x2="791.4" y2="769" stroke="#000" stroke-width="1.9" clip-path="url(#c11)"/>
<line x1="766.5" y1="759.1" x2="787.2" y2="773.9" stroke="#000" stroke-width="1.9" clip-path="url(#c11)"/>
<line x1="764.6" y1="760.4" x2="782" y2="778" stroke="#000" stroke-width="1.9" clip-path="url(#c11)"/>
<line x1="762.5" y1="761.5" x2="776" y2="781.4" stroke="#000" stroke-width="1.9" clip-path="url(#c11)"/>
<line x1="760.1" y1="762.3" x2="769.4" y2="783.9" stroke="#000" stroke-width="1.9" clip-path="url(#c11)"/>
<line x1="757.6" y1="762.8" x2="762.3" y2="785.5" stroke="#000" stroke-width="1.9" clip-path="url(#c11)"/>
<line x1="755" y1="763" x2="755" y2="786" stroke="#000" stroke-width="1.9" clip-path="url(#c11)"/>
<line x1="752.4" y1="762.8" x2="747.7" y2="785.5" stroke="#000" stroke-width="1.9" clip-path="url(#c11)"/>
<line x1="749.9" y1="762.3" x2="740.6" y2="783.9" stroke="#000" stroke-width="1.9" clip-path="url(#c11)"/>
<line x1="747.5" y1="761.5" x2="734" y2="781.4" stroke="#000" stroke-width="1.9" clip-path="url(#c11)"/>
<line x1="745.4" y1="760.4" x2="728" y2="778" stroke="#000" stroke-width="1.9" clip-path="url(#c11)"/>
<line x1="743.5" y1="759.1" x2="722.8" y2="773.9" stroke="#000" stroke-width="1.9" clip-path="url(#c11)"/>
<line x1="742" y1="757.5" x2="718.6" y2="769" stroke="#000" stroke-width="1.9" clip-path="url(#c11)"/>
<clipPath id="c11"><polygon points="724.4,731.4 732,720.2 743.1,716.7 757.2,716.1 773.6,722.6 785.3,730.8 790.6,742.5 792.3,754.8 791.2,763.6 785.3,770 776.5,772.4 761.9,771.2 750.1,768.3 743.1,761.2 729.6,749 724.4,740.1"/></clipPath>
<ellipse cx="755" cy="752" rx="16" ry="11" fill="#fff" stroke="#000" stroke-width="1.3" transform="rotate(35 755 752)"/>
<ellipse cx="755" cy="751.5" rx="10" ry="7.5" fill="#000" stroke="#000" stroke-width="1" transform="rotate(35 755 751.5)"/>
<ellipse cx="937" cy="472.3" rx="22.5" ry="11.5" fill="none" stroke="#000" stroke-width="1.2" transform="rotate(35 937 472.3)"/>
<ellipse cx="936.5" cy="472.8" rx="16.5" ry="7.5" fill="none" stroke="#000" stroke-width="1.2" transform="rotate(35 936.5 472.8)"/>
<polyline points="927.9,383.9 942.8,362.9 954,360.2 962,364.6 981.2,359 984.8,366.4 1012.8,372.5 1025,381.2 1043.4,383.9 1051.2,411 1047.8,425 1047.8,433.8 1040.8,446.9 1039,467 1043,477 1028.8,488 1007.6,481.8 1002.8,473.6 973.5,468.8 960.5,455.8 956.8,453 947.1,446 948.9,438 931.4,420 924.4,412.8 931.4,406.6 927.9,390 927.9,383.9" fill="#fff" stroke="#000" stroke-width="1.1"/>
<polyline points="939.2,377.8 996.1,382.1 1004,392.6 1042.5,430.2 1043,445" fill="none" stroke="#000" stroke-width="1.1"/>
<polyline points="937,381 995,385.5 1002,396 1040,434" fill="none" stroke="#000" stroke-width="1"/>
<polyline points="958.5,377.8 963.8,366.4 984.8,366.4" fill="none" stroke="#000" stroke-width="1"/>
<polyline points="1012.8,372.5 1022,383 1030,392 1044,400" fill="none" stroke="#000" stroke-width="1"/>
<ellipse cx="987" cy="425.5" rx="58" ry="31.5" fill="none" stroke="#000" stroke-width="1.5" transform="rotate(35 987 425.5)"/>
<ellipse cx="987" cy="425.5" rx="55" ry="29" fill="none" stroke="#000" stroke-width="1" transform="rotate(35 987 425.5)"/>
<ellipse cx="998" cy="406.5" rx="23" ry="12.5" fill="#fff" stroke="#000" stroke-width="1" transform="rotate(35 998 406.5)"/>
<polyline points="1018.2,415.4 1018.1,416.6 1017.8,417.7 1017.4,418.7 1016.8,419.7 1016.1,420.5 1015.3,421.3 1014.3,421.9 1013.3,422.4 1012,422.8 1010.7,423 1009.3,423.2 1007.8,423.2 1006.3,423.1 1004.6,422.8 1002.9,422.5 1001.2,422 999.5,421.4 997.7,420.6 996,419.8 994.2,418.9 992.5,417.9 990.8,416.7 989.2,415.6 987.7,414.3 986.2,413 984.8,411.6 983.5,410.2 982.4,408.8 981.3,407.3 980.4,405.9 979.6,404.4 979,403 978.5,401.6 978.1,400.2 977.9,398.9 977.8,397.6 977.9,396.4 978.2,395.3 978.6,394.3 979.2,393.3" fill="none" stroke="#000" stroke-width="2"/>
<polyline points="1017,413 1016.8,413.7 1016.5,414.3 1016,414.9 1015.5,415.4 1014.9,415.8 1014.2,416.1 1013.4,416.4 1012.5,416.5 1011.5,416.6 1010.5,416.6 1009.4,416.5 1008.2,416.4 1007,416.1 1005.7,415.8 1004.4,415.4 1003.1,414.9 1001.8,414.3 1000.5,413.7 999.1,413 997.8,412.3 996.4,411.4 995.1,410.6 993.8,409.7 992.6,408.7 991.4,407.7 990.3,406.7 989.2,405.7 988.2,404.6 987.2,403.5 986.4,402.5 985.6,401.4 984.9,400.3 984.3,399.3 983.8,398.3 983.4,397.3 983.1,396.3 982.9,395.4 982.8,394.6 982.8,393.7 983,393" fill="none" stroke="#000" stroke-width="1"/>
<polyline points="1026.8,386 1035,383 1044.2,392 1042,402.2 1032,400" fill="#fff" stroke="#000" stroke-width="1.1"/>
<line x1="1032" y1="388" x2="1040" y2="398" stroke="#000" stroke-width="1"/>
<line x1="1030" y1="392" x2="1036" y2="401" stroke="#000" stroke-width="1"/>
<polyline points="957.6,397 974.2,397.5 974,401 960,400.5" fill="none" stroke="#000" stroke-width="1.2"/>
<polyline points="972.5,423.2 978,419 985.6,414.5" fill="none" stroke="#000" stroke-width="1.2"/>
<line x1="978" y1="419" x2="976" y2="424" stroke="#000" stroke-width="1.2"/>
<polyline points="945.4,409.5 949.8,409.2 949.8,416.2 945.4,416.2 945.4,409.5" fill="none" stroke="#000" stroke-width="1"/>
<ellipse cx="945.4" cy="382" rx="3.2" ry="2.5" fill="none" stroke="#000" stroke-width="1.2" transform="rotate(35 945.4 382)"/>
<ellipse cx="935.8" cy="389" rx="3.2" ry="2.5" fill="none" stroke="#000" stroke-width="1.2" transform="rotate(35 935.8 389)"/>
<ellipse cx="994.4" cy="389" rx="3.2" ry="2.5" fill="none" stroke="#000" stroke-width="1.2" transform="rotate(35 994.4 389)"/>
<ellipse cx="931.4" cy="415.4" rx="3.2" ry="2.5" fill="none" stroke="#000" stroke-width="1.2" transform="rotate(35 931.4 415.4)"/>
<ellipse cx="1034.6" cy="427.6" rx="3.2" ry="2.5" fill="none" stroke="#000" stroke-width="1.2" transform="rotate(35 1034.6 427.6)"/>
<ellipse cx="954" cy="446" rx="3.2" ry="2.5" fill="none" stroke="#000" stroke-width="1.2" transform="rotate(35 954 446)"/>
<ellipse cx="970" cy="465" rx="3.2" ry="2.5" fill="none" stroke="#000" stroke-width="1.2" transform="rotate(35 970 465)"/>
<ellipse cx="1024" cy="466" rx="3.2" ry="2.5" fill="none" stroke="#000" stroke-width="1.2" transform="rotate(35 1024 466)"/>
<polyline points="1002.8,473.6 1010,478 1027,480 1040,470" fill="none" stroke="#000" stroke-width="1"/>
<polyline points="1039,446 1036,470" fill="none" stroke="#000" stroke-width="1"/>
<ellipse cx="1034" cy="352.6" rx="15" ry="12" fill="#fff" stroke="#000" stroke-width="1.2" transform="rotate(35 1034 352.6)"/>
<ellipse cx="1033" cy="353.6" rx="13" ry="10" fill="none" stroke="#000" stroke-width="2.5" transform="rotate(35 1033 353.6)"/>
<ellipse cx="1033" cy="353.6" rx="9" ry="6.5" fill="none" stroke="#000" stroke-width="1" transform="rotate(35 1033 353.6)"/>
<path d="M1088,318 Q1090,314 1094,317 Q1098,322 1097.5,330 Q1096,333 1093,332 Z" fill="#fff" stroke="#000" stroke-width="1"/>
<path d="M1082,323 L1088,319 L1092,322 L1093,331 L1087,333 L1083,329 Z" fill="#111" stroke="#000" stroke-width="1"/>
<line x1="1062.5" y1="329" x2="1068" y2="339" stroke="#000" stroke-width="2"/>
<polyline points="902.5,353.5 896.9,350.2 896.9,343.8 902.5,340.5 908.1,343.8 908.1,350.2 902.5,353.5" fill="#fff" stroke="#000" stroke-width="1.2"/>
<polyline points="908,343.5 929,343.5 929,350.5 908,350.5 908,343.5" fill="#fff" stroke="#000" stroke-width="1"/>
<line x1="917.5" y1="344" x2="917.5" y2="350" stroke="#000" stroke-width="1"/>
<line x1="919.5" y1="344" x2="919.5" y2="350" stroke="#000" stroke-width="1"/>
<line x1="921.5" y1="344" x2="921.5" y2="350" stroke="#000" stroke-width="1"/>
<line x1="923.5" y1="344" x2="923.5" y2="350" stroke="#000" stroke-width="1"/>
<line x1="925.5" y1="344" x2="925.5" y2="350" stroke="#000" stroke-width="1"/>
<line x1="927.5" y1="344" x2="927.5" y2="350" stroke="#000" stroke-width="1"/>
<ellipse cx="941" cy="347.7" rx="4.6" ry="8" fill="none" stroke="#000" stroke-width="1.3"/>
<ellipse cx="941" cy="347.7" rx="2.8" ry="6" fill="none" stroke="#000" stroke-width="1"/>
<polyline points="1046.2,513.3 1039.8,519.7 1031.1,517.4 1028.8,508.7 1035.2,502.3 1043.9,504.6 1046.2,513.3" fill="#fff" stroke="#000" stroke-width="1.1"/>
<ellipse cx="1037" cy="508.5" rx="6" ry="5" fill="#1a1a1a" stroke="#000" stroke-width="1" transform="rotate(-17 1037 508.5)"/>
<ellipse cx="1037" cy="508.5" rx="2" ry="2" fill="#888" stroke="#888" stroke-width="0.8"/>
<path d="M1030,514 Q1037,521 1045,514" fill="none" stroke="#000" stroke-width="1"/>
<path d="M1036,545 Q1034,536 1041,537 L1047,533 Q1056,531 1062,538 Q1070,546 1070,556 L1066,568 L1048,572 Q1036,566 1036,545 Z" fill="#fff" stroke="#000" stroke-width="1.2"/>
<ellipse cx="1039" cy="553" rx="4.5" ry="13" fill="#fff" stroke="#000" stroke-width="1.2" transform="rotate(-12 1039 553)"/>
<ellipse cx="1063" cy="547" rx="5.5" ry="11" fill="#fff" stroke="#000" stroke-width="1.2" transform="rotate(-38 1063 547)"/>
<ellipse cx="1051" cy="553" rx="6" ry="16" fill="#fff" stroke="#000" stroke-width="1.2" transform="rotate(-22 1051 553)"/>
<line x1="1043" y1="540" x2="1050" y2="567" stroke="#000" stroke-width="1"/>
<line x1="1045" y1="540" x2="1052" y2="567" stroke="#000" stroke-width="1"/>
<line x1="1047" y1="540" x2="1054" y2="567" stroke="#000" stroke-width="1"/>
<line x1="1049" y1="540" x2="1056" y2="567" stroke="#000" stroke-width="1"/>
<path d="M1047,569 L1068,566 L1069,578 L1064,592 L1057,593 L1051,580 Z" fill="#111" stroke="#000" stroke-width="1"/>
<line x1="1052" y1="578" x2="1066" y2="576" stroke="#fff" stroke-width="1"/>
<line x1="1054" y1="585" x2="1065" y2="584" stroke="#fff" stroke-width="0.8"/>
<ellipse cx="1045" cy="535.5" rx="4" ry="3.5" fill="#fff" stroke="#000" stroke-width="1.3"/>
<ellipse cx="1069.5" cy="605.5" rx="13.5" ry="11" fill="#fff" stroke="#000" stroke-width="1.2" transform="rotate(-17 1069.5 605.5)"/>
<ellipse cx="1069.5" cy="605.5" rx="11" ry="8.5" fill="none" stroke="#000" stroke-width="3" transform="rotate(-17 1069.5 605.5)"/>
<ellipse cx="1069.5" cy="605.5" rx="7" ry="5" fill="none" stroke="#000" stroke-width="1" transform="rotate(-17 1069.5 605.5)"/>
<polyline points="1093.8,636.8 1093.6,638.1 1093.2,639.5 1092.6,640.8 1091.8,642 1090.8,643.2 1089.6,644.2 1088.3,645.2 1086.9,646 1085.4,646.7 1083.8,647.2 1082.1,647.6 1080.4,647.8 1078.8,647.8 1077.2,647.6 1075.7,647.2 1074.3,646.7 1073,646 1071.9,645.2 1071,644.3 1070.2,643.2 1069.7,642 1069.3,640.8 1069.2,639.5 1069.3,638.2 1069.7,636.8 1070.2,635.5 1071,634.3 1072,633.1 1073.1,632 1074.4,631 1075.8,630.1 1077.3,629.4 1078.9,628.9 1080.5,628.5 1082.2,628.3 1083.8,628.2 1085.4,628.4 1087,628.7 1088.4,629.1 1089.7,629.8" fill="none" stroke="#000" stroke-width="1.8"/>
<ellipse cx="1098" cy="685" rx="22" ry="17" fill="#fff" stroke="#000" stroke-width="1.2" transform="rotate(-17 1098 685)"/>
<ellipse cx="1098" cy="681" rx="22" ry="17" fill="#fff" stroke="#000" stroke-width="1.5" transform="rotate(-17 1098 681)"/>
<ellipse cx="1098" cy="681" rx="19" ry="14.5" fill="none" stroke="#000" stroke-width="1" transform="rotate(-17 1098 681)"/>
<ellipse cx="1098" cy="681" rx="16" ry="12" fill="none" stroke="#000" stroke-width="1.2" transform="rotate(-17 1098 681)"/>
<ellipse cx="1099" cy="680" rx="12" ry="9" fill="none" stroke="#000" stroke-width="1" transform="rotate(-17 1099 680)"/>
<ellipse cx="1110.6" cy="730" rx="11.8" ry="7.8" fill="none" stroke="#000" stroke-width="1.3" transform="rotate(-17 1110.6 730)"/>
<ellipse cx="1110.6" cy="730" rx="10" ry="6.2" fill="none" stroke="#000" stroke-width="1" transform="rotate(-17 1110.6 730)"/>
<ellipse cx="1125" cy="771" rx="11" ry="8" fill="#fff" stroke="#000" stroke-width="1.2" transform="rotate(-17 1125 771)"/>
<ellipse cx="1124" cy="770" rx="6" ry="4.5" fill="#000" stroke="#000" stroke-width="1" transform="rotate(-17 1124 770)"/>
<path d="M1118,776 l2,6 l10,1 l5,-6" fill="none" stroke="#000" stroke-width="1"/>
<path d="M1126,835 L1125,851 L1130,888 L1145.6,894 L1153.75,871.6 L1172,867.5 L1170,850 L1164,834" fill="#fff" stroke="#000" stroke-width="1.2"/>
<ellipse cx="1145" cy="834.5" rx="19.7" ry="9.5" fill="#fff" stroke="#000" stroke-width="1.2" transform="rotate(-17 1145 834.5)"/>
<ellipse cx="1145" cy="834.5" rx="15" ry="7" fill="none" stroke="#000" stroke-width="1" transform="rotate(-17 1145 834.5)"/>
<ellipse cx="1145" cy="834.5" rx="10" ry="5.5" fill="#000" stroke="#000" stroke-width="1" transform="rotate(-17 1145 834.5)"/>
<line x1="1126" y1="845" x2="1164" y2="848" stroke="#000" stroke-width="1"/>
<line x1="1128" y1="862" x2="1160" y2="866" stroke="#000" stroke-width="1"/>
<ellipse cx="1140" cy="881" rx="4" ry="5" fill="none" stroke="#000" stroke-width="1.2"/>
<ellipse cx="1163" cy="862" rx="4" ry="4" fill="none" stroke="#000" stroke-width="1"/>
<path d="M1160,946 L1183,939 L1192,952 L1190,962 L1170,970 L1163,960 Z" fill="#fff" stroke="#000" stroke-width="1.3"/>
<line x1="1166" y1="948" x2="1184" y2="956" stroke="#000" stroke-width="1"/>
<line x1="1170" y1="965" x2="1182" y2="946" stroke="#000" stroke-width="1"/>
<polygon points="1163.6,939 1152.6,941 1157.4,957 1168.4,955" fill="#fff" stroke="#000" stroke-width="1"/>
<ellipse cx="1159.4" cy="948.2" rx="5" ry="8" fill="#fff" stroke="#000" stroke-width="2.2" transform="rotate(-17 1159.4 948.2)"/>
<ellipse cx="1155" cy="949" rx="5" ry="8" fill="#fff" stroke="#000" stroke-width="1.3" transform="rotate(-17 1155 949)"/>
<ellipse cx="1155" cy="949" rx="2.8" ry="4.4" fill="none" stroke="#000" stroke-width="1.2" transform="rotate(-17 1155 949)"/>
<polygon points="1174,943.1 1185,939.1 1199,934.9 1188,938.9" fill="#fff" stroke="#000" stroke-width="1"/>
<ellipse cx="1187.6" cy="938.6" rx="7" ry="5" fill="#fff" stroke="#000" stroke-width="2.2" transform="rotate(-17 1187.6 938.6)"/>
<ellipse cx="1192" cy="937" rx="7" ry="5" fill="#fff" stroke="#000" stroke-width="1.3" transform="rotate(-17 1192 937)"/>
<ellipse cx="1192" cy="937" rx="3.9" ry="2.8" fill="none" stroke="#000" stroke-width="1.2" transform="rotate(-17 1192 937)"/>
<polygon points="1187.6,952 1198.6,955 1203.4,971 1192.4,968" fill="#fff" stroke="#000" stroke-width="1"/>
<ellipse cx="1196.6" cy="961.8" rx="5.5" ry="8" fill="#fff" stroke="#000" stroke-width="2.2" transform="rotate(-17 1196.6 961.8)"/>
<ellipse cx="1201" cy="963" rx="5.5" ry="8" fill="#fff" stroke="#000" stroke-width="1.3" transform="rotate(-17 1201 963)"/>
<ellipse cx="1201" cy="963" rx="3" ry="4.4" fill="none" stroke="#000" stroke-width="1.2" transform="rotate(-17 1201 963)"/>
<polygon points="1160.5,968.2 1152.5,974.2 1167.5,969.8 1175.5,963.8" fill="#fff" stroke="#000" stroke-width="1"/>
<ellipse cx="1163.2" cy="969.6" rx="7.5" ry="5.5" fill="#fff" stroke="#000" stroke-width="2.2" transform="rotate(-17 1163.2 969.6)"/>
<ellipse cx="1160" cy="972" rx="7.5" ry="5.5" fill="#fff" stroke="#000" stroke-width="1.3" transform="rotate(-17 1160 972)"/>
<ellipse cx="1160" cy="972" rx="4.1" ry="3" fill="none" stroke="#000" stroke-width="1.2" transform="rotate(-17 1160 972)"/>
<polyline points="1138.4,951.7 1137.9,951.9 1137.3,951.9 1136.8,951.9 1136.3,951.9 1135.8,951.7 1135.3,951.5 1134.8,951.2 1134.4,950.9 1134.1,950.5 1133.7,950 1133.4,949.5 1133.2,949 1133,948.4 1132.9,947.8 1132.8,947.2 1132.8,946.5 1132.8,945.9 1132.9,945.2 1133.1,944.5 1133.3,943.9 1133.6,943.3 1133.9,942.7 1134.2,942.1 1134.6,941.6 1135,941.1 1135.5,940.6 1136,940.2 1136.5,939.9 1137,939.7 1137.6,939.5 1138.1,939.3 1138.7,939.3 1139.2,939.3 1139.7,939.3 1140.2,939.5 1140.7,939.7 1141.2,940 1141.6,940.3 1141.9,940.7 1142.3,941.2" fill="none" stroke="#000" stroke-width="1.5"/>
<polyline points="1210,928.7 1209.9,929.2 1209.7,929.7 1209.4,930.2 1209.1,930.6 1208.7,931 1208.3,931.3 1207.8,931.5 1207.3,931.7 1206.8,931.9 1206.2,931.9 1205.6,931.9 1205,931.9 1204.4,931.7 1203.9,931.5 1203.3,931.3 1202.7,931 1202.1,930.6 1201.6,930.2 1201.1,929.7 1200.7,929.2 1200.3,928.7 1199.9,928.1 1199.6,927.5 1199.3,926.9 1199.1,926.3 1198.9,925.7 1198.9,925.1 1198.8,924.5 1198.9,923.9 1199,923.3 1199.1,922.8 1199.3,922.3 1199.6,921.8 1199.9,921.4 1200.3,921 1200.7,920.7 1201.2,920.5 1201.7,920.3 1202.2,920.1 1202.8,920.1" fill="none" stroke="#000" stroke-width="1.5"/>
<polyline points="1224.9,973.3 1224.8,973.8 1224.6,974.3 1224.3,974.8 1224,975.2 1223.6,975.6 1223.2,975.9 1222.7,976.1 1222.2,976.3 1221.7,976.5 1221.1,976.5 1220.5,976.5 1219.9,976.5 1219.3,976.3 1218.8,976.1 1218.2,975.9 1217.6,975.6 1217,975.2 1216.5,974.8 1216,974.3 1215.6,973.8 1215.2,973.3 1214.8,972.7 1214.5,972.1 1214.2,971.5 1214,970.9 1213.8,970.3 1213.8,969.7 1213.7,969.1 1213.8,968.5 1213.9,967.9 1214,967.4 1214.2,966.9 1214.5,966.4 1214.8,966 1215.2,965.6 1215.6,965.3 1216.1,965.1 1216.6,964.9 1217.1,964.7 1217.7,964.7" fill="none" stroke="#000" stroke-width="1.5"/>
<polyline points="1147.9,993.9 1147.4,994.1 1146.8,994.1 1146.3,994.1 1145.8,994.1 1145.3,993.9 1144.8,993.7 1144.3,993.4 1143.9,993.1 1143.6,992.7 1143.2,992.2 1142.9,991.7 1142.7,991.2 1142.5,990.6 1142.4,990 1142.3,989.4 1142.3,988.7 1142.3,988.1 1142.4,987.4 1142.6,986.7 1142.8,986.1 1143.1,985.5 1143.4,984.9 1143.7,984.3 1144.1,983.8 1144.5,983.3 1145,982.8 1145.5,982.4 1146,982.1 1146.5,981.9 1147.1,981.7 1147.6,981.5 1148.2,981.5 1148.7,981.5 1149.2,981.5 1149.7,981.7 1150.2,981.9 1150.7,982.2 1151.1,982.5 1151.4,982.9 1151.8,983.4" fill="none" stroke="#000" stroke-width="1.5"/>
<path d="M1175,1040 L1173,1026 Q1176,1016 1186,1017 Q1194,1019 1196,1030 L1199,1036 L1203,1026 Q1208,1020 1215,1022 Q1222,1026 1225,1039 L1219,1052 L1214,1060 L1196,1062 Q1184,1054 1175,1040 Z" fill="#fff" stroke="#000" stroke-width="1.5"/>
<ellipse cx="1185" cy="1029" rx="5" ry="7.5" fill="none" stroke="#000" stroke-width="1.3" transform="rotate(-15 1185 1029)"/>
<ellipse cx="1185" cy="1029" rx="3.5" ry="5.5" fill="none" stroke="#000" stroke-width="1" transform="rotate(-15 1185 1029)"/>
<ellipse cx="1212" cy="1035" rx="5.5" ry="8" fill="none" stroke="#000" stroke-width="1.3" transform="rotate(-20 1212 1035)"/>
<ellipse cx="1212" cy="1035" rx="3.8" ry="6" fill="none" stroke="#000" stroke-width="1" transform="rotate(-20 1212 1035)"/>
<path d="M1193,1045 Q1200,1038 1207,1044 L1208,1056 L1196,1058 Z" fill="#111" stroke="#000" stroke-width="1"/>
<path d="M1196,1058 L1198,1068 L1212,1070 L1215,1060 Z" fill="#444" stroke="#000" stroke-width="1"/>
<line x1="1176" y1="1041" x2="1196" y2="1056" stroke="#000" stroke-width="1"/>
<line x1="1200" y1="1036" x2="1204" y2="1046" stroke="#000" stroke-width="1"/>
<ellipse cx="1109.5" cy="457" rx="6.5" ry="8.5" fill="none" stroke="#000" stroke-width="1.1" transform="rotate(-30 1109.5 457)"/>
<polyline points="1263,338 1272,340 1270,350.5 1261,348 1263,338" fill="none" stroke="#000" stroke-width="1.1"/>
<path d="M1261,342 Q1250,342 1243,356 L1237,362 L1191,394" fill="none" stroke="#000" stroke-width="1"/>
<path d="M1262,346 Q1253,347 1247,357 L1239,368 L1194,399" fill="none" stroke="#000" stroke-width="1"/>
<polyline points="1182.5,396 1189,393 1194,403 1187,407 1182.5,396" fill="none" stroke="#000" stroke-width="1"/>
<polyline points="1171,407 1183,397 1190,408 1175,418 1171,407" fill="none" stroke="#000" stroke-width="1"/>
<polyline points="1158,412 1171,405 1176,418 1164,427 1158,412" fill="none" stroke="#000" stroke-width="1.2"/>
<polyline points="1148,421 1159,413 1165,426 1154,433 1148,421" fill="none" stroke="#000" stroke-width="1"/>
<polyline points="1140,428 1148,422 1154,433 1147,438 1140,428" fill="none" stroke="#000" stroke-width="1"/>
<polyline points="248.5,479.5 256,479 257,484.3 256,489.5 248.5,489 248,484.3 248.5,479.5" fill="#fff" stroke="#000" stroke-width="1.2"/>
<line x1="251.5" y1="480" x2="251.5" y2="489" stroke="#000" stroke-width="1"/>
<line x1="253.5" y1="479.5" x2="253.5" y2="489.5" stroke="#000" stroke-width="1.6"/>
<polyline points="257,481.5 264.5,481.5 264.5,487 257,487 257,481.5" fill="#fff" stroke="#000" stroke-width="1"/>
<line x1="259" y1="481.5" x2="259" y2="487" stroke="#000" stroke-width="1.3"/>
<line x1="261" y1="481.5" x2="261" y2="487" stroke="#000" stroke-width="1.3"/>
<line x1="263" y1="481.5" x2="263" y2="487" stroke="#000" stroke-width="1.3"/>
<ellipse cx="290.6" cy="484.3" rx="4.2" ry="7.5" fill="none" stroke="#000" stroke-width="3"/>
<ellipse cx="290.6" cy="484.3" rx="1.2" ry="3" fill="#fff" stroke="#fff" stroke-width="1"/>
<ellipse cx="314.6" cy="484.3" rx="4.7" ry="7.5" fill="none" stroke="#000" stroke-width="1.2"/>
<ellipse cx="314.6" cy="484.3" rx="1.5" ry="2.5" fill="#000" stroke="#000" stroke-width="1"/>
<ellipse cx="381.6" cy="484.3" rx="5" ry="7.5" fill="#000" stroke="#000" stroke-width="1.2"/>
<ellipse cx="383" cy="484.3" rx="3" ry="5" fill="#fff" stroke="#000" stroke-width="1"/>
<ellipse cx="355.3" cy="454.7" rx="6.5" ry="5" fill="none" stroke="#000" stroke-width="1.2"/>
<ellipse cx="355.3" cy="455.5" rx="3" ry="2.5" fill="none" stroke="#000" stroke-width="1"/>
<line x1="354.4" y1="460" x2="347.8" y2="482" stroke="#000" stroke-width="1"/>
<line x1="264" y1="484.5" x2="286" y2="484.5" stroke="#000" stroke-width="1"/>
<line x1="295" y1="484.5" x2="310" y2="484.5" stroke="#000" stroke-width="1"/>
<line x1="318" y1="484.5" x2="378" y2="484.5" stroke="#000" stroke-width="1" stroke-dasharray="14 3 2 3"/>
<polyline points="336.5,478 350.6,484.7 353.4,495 350.6,504.4 352.5,513.8 360,528.8 369.4,540 378.8,549.4 375,551.2 360,552.2 354.4,545.6 350.6,532.5 345,513.8 339.4,504.4 333.8,489.4 336.5,478" fill="#fff" stroke="#000" stroke-width="1.1"/>
<line x1="334" y1="489" x2="351.5" y2="489" stroke="#000" stroke-width="1.2"/>
<path d="M351,505 Q356,530 373,548" fill="none" stroke="#000" stroke-width="1"/>
<ellipse cx="345" cy="496" rx="1.3" ry="1.3" fill="none" stroke="#000" stroke-width="1"/>
<ellipse cx="340" cy="500" rx="1.3" ry="1.3" fill="none" stroke="#000" stroke-width="1"/>
<ellipse cx="346" cy="514" rx="1.3" ry="1.3" fill="none" stroke="#000" stroke-width="1"/>
<ellipse cx="351" cy="528" rx="1.3" ry="1.3" fill="none" stroke="#000" stroke-width="1"/>
<ellipse cx="357" cy="542" rx="1.3" ry="1.3" fill="none" stroke="#000" stroke-width="1"/>
<ellipse cx="372" cy="546" rx="1.3" ry="1.3" fill="none" stroke="#000" stroke-width="1"/>
<polyline points="385.1,512.8 382.9,516.7 378.4,516.7 376.1,512.8 378.4,508.9 382.9,508.9 385.1,512.8" fill="#fff" stroke="#000" stroke-width="1.2"/>
<line x1="379" y1="517" x2="374" y2="526" stroke="#000" stroke-width="3"/>
<line x1="373.5" y1="525" x2="371.3" y2="545.6" stroke="#000" stroke-width="1"/>
<ellipse cx="333" cy="536" rx="7" ry="4" fill="#fff" stroke="#000" stroke-width="1.2" transform="rotate(-10 333 536)"/>
<polygon points="326,536 340,534 337,548 323,549" fill="#fff" stroke="none"/>
<line x1="326" y1="537" x2="323" y2="549" stroke="#000" stroke-width="1.2"/>
<line x1="340" y1="534" x2="337" y2="547" stroke="#000" stroke-width="1.2"/>
<ellipse cx="330" cy="548" rx="7" ry="4.5" fill="#fff" stroke="#000" stroke-width="1.2" transform="rotate(-10 330 548)"/>
<ellipse cx="330" cy="548" rx="3" ry="2" fill="none" stroke="#000" stroke-width="1" transform="rotate(-10 330 548)"/>
<line x1="333.8" y1="532.5" x2="345" y2="495" stroke="#000" stroke-width="1"/>
<line x1="332" y1="551" x2="330" y2="557" stroke="#000" stroke-width="1"/>
<polyline points="199.5,569.5 207,569 208,574.5 207,580 199.5,579.5 199,574.5 199.5,569.5" fill="#fff" stroke="#000" stroke-width="1.2"/>
<line x1="202.5" y1="570" x2="202.5" y2="579.5" stroke="#000" stroke-width="1"/>
<line x1="204.5" y1="569.5" x2="204.5" y2="580" stroke="#000" stroke-width="1.6"/>
<polyline points="208,571.5 215.6,571.5 215.6,577.5 208,577.5 208,571.5" fill="#fff" stroke="#000" stroke-width="1"/>
<line x1="210" y1="571.5" x2="210" y2="577.5" stroke="#000" stroke-width="1.3"/>
<line x1="212" y1="571.5" x2="212" y2="577.5" stroke="#000" stroke-width="1.3"/>
<line x1="214" y1="571.5" x2="214" y2="577.5" stroke="#000" stroke-width="1.3"/>
<ellipse cx="241.9" cy="573.8" rx="4.5" ry="8" fill="none" stroke="#000" stroke-width="3"/>
<ellipse cx="241.9" cy="573.8" rx="1.2" ry="3" fill="#fff" stroke="#fff" stroke-width="1"/>
<ellipse cx="265.9" cy="573.8" rx="4.7" ry="7.5" fill="none" stroke="#000" stroke-width="1.2"/>
<ellipse cx="265.9" cy="573.8" rx="1.5" ry="2.5" fill="#000" stroke="#000" stroke-width="1"/>
<ellipse cx="346" cy="573.8" rx="5" ry="7.5" fill="#000" stroke="#000" stroke-width="1.2"/>
<ellipse cx="347.4" cy="573.8" rx="3" ry="5" fill="#fff" stroke="#000" stroke-width="1"/>
<line x1="215.6" y1="573.5" x2="237" y2="573.5" stroke="#000" stroke-width="1"/>
<line x1="246" y1="573.5" x2="261" y2="573.5" stroke="#000" stroke-width="1"/>
<line x1="270" y1="573.5" x2="371" y2="573.5" stroke="#000" stroke-width="1" stroke-dasharray="14 3 2 3"/>
<polyline points="311,558.8 331.9,557 348.8,600 347,605 328,613.1 324,610 310,572 311,558.8" fill="#fff" stroke="#000" stroke-width="1.2"/>
<polyline points="313,572 316.5,565 331.9,557" fill="none" stroke="#000" stroke-width="1"/>
<polyline points="324,577 335,600 346,603" fill="none" stroke="#000" stroke-width="1"/>
<path d="M326,594 l4,-4 l3,6 z" fill="none" stroke="#000" stroke-width="1"/>
<path d="M338,592 l3,-3 l2,5 z" fill="none" stroke="#000" stroke-width="1"/>
<line x1="333.8" y1="532.5" x2="345" y2="495" stroke="#000" stroke-width="1"/>
<line x1="286" y1="682" x2="312" y2="607" stroke="#000" stroke-width="1"/>
<line x1="291" y1="684" x2="316" y2="609" stroke="#000" stroke-width="1"/>
<line x1="311" y1="611" x2="317" y2="612" stroke="#000" stroke-width="1"/>
<line x1="310.1" y1="613.5" x2="316.1" y2="614.5" stroke="#000" stroke-width="1"/>
<line x1="309.3" y1="616" x2="315.3" y2="617" stroke="#000" stroke-width="1"/>
<line x1="308.4" y1="618.5" x2="314.4" y2="619.5" stroke="#000" stroke-width="1"/>
<line x1="307.6" y1="621" x2="313.6" y2="622" stroke="#000" stroke-width="1"/>
<line x1="306.8" y1="623.5" x2="312.8" y2="624.5" stroke="#000" stroke-width="1"/>
<line x1="305.9" y1="626" x2="311.9" y2="627" stroke="#000" stroke-width="1"/>
<line x1="305.1" y1="628.5" x2="311.1" y2="629.5" stroke="#000" stroke-width="1"/>
<line x1="304.2" y1="631" x2="310.2" y2="632" stroke="#000" stroke-width="1"/>
<line x1="303.4" y1="633.5" x2="309.4" y2="634.5" stroke="#000" stroke-width="1"/>
<polyline points="292.5,682 290.2,685.9 285.8,685.9 283.5,682 285.8,678.1 290.2,678.1 292.5,682" fill="#fff" stroke="#000" stroke-width="1.2"/>
<ellipse cx="288" cy="682" rx="2" ry="2" fill="none" stroke="#000" stroke-width="1"/>
<polyline points="326,651.6 323.5,655.9 318.5,655.9 316,651.6 318.5,647.3 323.5,647.3 326,651.6" fill="#fff" stroke="#000" stroke-width="1.2"/>
<line x1="323" y1="645" x2="327" y2="634" stroke="#000" stroke-width="3"/>
<line x1="325.6" y1="637.5" x2="332" y2="613" stroke="#000" stroke-width="1"/>
<ellipse cx="477" cy="661" rx="5.5" ry="4" fill="#fff" stroke="#000" stroke-width="1.2" transform="rotate(25 477 661)"/>
<line x1="479" y1="657" x2="483" y2="651" stroke="#000" stroke-width="3"/>
<line x1="481" y1="652.5" x2="494" y2="632" stroke="#000" stroke-width="1"/>
<path d="M461,707 L470,691 Q472,688 473,692 L464,708 Q462,711 461,707 Z" fill="none" stroke="#000" stroke-width="1"/>
<ellipse cx="478.4" cy="746" rx="14" ry="10" fill="#fff" stroke="#000" stroke-width="1.5" transform="rotate(35 478.4 746)"/>
<ellipse cx="477.4" cy="747" rx="12" ry="8" fill="none" stroke="#000" stroke-width="2" transform="rotate(35 477.4 747)"/>
<ellipse cx="477.4" cy="747" rx="8" ry="5" fill="none" stroke="#000" stroke-width="1" transform="rotate(35 477.4 747)"/>
<polyline points="472,800 486,778 489,780 475,802 472,800" fill="none" stroke="#000" stroke-width="1"/>
<polyline points="487.7,772 505.8,772 520.6,748.5" fill="none" stroke="#000" stroke-width="1"/>
<polyline points="464.9,817.2 461,819.5 457.1,817.2 457.1,812.8 461,810.5 464.9,812.8 464.9,817.2" fill="#333" stroke="#000" stroke-width="1.2"/>
<line x1="463" y1="810" x2="468" y2="804" stroke="#000" stroke-width="3"/>
<ellipse cx="410" cy="819.4" rx="11" ry="8" fill="none" stroke="#000" stroke-width="1.5" transform="rotate(30 410 819.4)"/>
<ellipse cx="410" cy="819.4" rx="7.5" ry="5" fill="none" stroke="#000" stroke-width="1.2" transform="rotate(30 410 819.4)"/>
<ellipse cx="423.5" cy="826" rx="2.5" ry="2.5" fill="none" stroke="#000" stroke-width="1.2"/>
<polyline points="383,873 399,837 404,838 388,875 383,873" fill="#fff" stroke="#000" stroke-width="1.2"/>
<ellipse cx="385.5" cy="874" rx="2.5" ry="2" fill="none" stroke="#000" stroke-width="1"/>
<path d="M361,884 L369,892 Q374,898 376,903 Q378,897 382,891 M369,892 Q371,902 375,903" fill="none" stroke="#000" stroke-width="1.3"/>
<ellipse cx="363" cy="886" rx="3" ry="4" fill="#333" stroke="#000" stroke-width="1.2" transform="rotate(-45 363 886)"/>
<path d="M590.3,751.5 Q592,766 576,772 L561,766.5 M576,772 Q574,788 580,798.5" fill="none" stroke="#000" stroke-width="5.2" stroke-linecap="round"/>
<path d="M590.3,751.5 Q592,766 576,772 L561,766.5 M576,772 Q574,788 580,798.5" fill="none" stroke="#fff" stroke-width="3" stroke-linecap="round"/>
<path d="M618.8,809 L624.2,802.5 Q627,800.5 630,802 L645,811 L620,865 Q616,869 611,867 L594,856 Q590.5,853 592.5,849 L616.6,813.3 L621,815 Q625,818 627.5,816.6 Q629,812 624,809 Z" fill="#fff" stroke="#000" stroke-width="1.1"/>
<line x1="645" y1="811.5" x2="619" y2="866.5" stroke="#000" stroke-width="1"/>
<line x1="646.3" y1="812.3" x2="619.1" y2="867.9" stroke="#000" stroke-width="1"/>
<line x1="647.6" y1="813.1" x2="619.3" y2="869.4" stroke="#000" stroke-width="1"/>
<line x1="648.9" y1="813.8" x2="619.4" y2="870.8" stroke="#000" stroke-width="1"/>
<line x1="649.4" y1="816.6" x2="623" y2="871" stroke="#000" stroke-width="1.2"/>
<line x1="645" y1="811" x2="650" y2="816" stroke="#000" stroke-width="1"/>
<line x1="619" y1="866" x2="623" y2="871" stroke="#000" stroke-width="1.2"/>
<ellipse cx="659.8" cy="903.8" rx="39.5" ry="28.5" fill="none" stroke="#000" stroke-width="1.2" transform="rotate(-12 659.8 903.8)"/>
<ellipse cx="659.8" cy="903.8" rx="38" ry="27" fill="none" stroke="#000" stroke-width="1" transform="rotate(-12 659.8 903.8)"/>
<polyline points="656.9,962.5 666.2,951.9 698.8,935.6 701.9,928.8 707.5,928.8 724.4,930 737.5,948.8 736.2,951.9 732.5,955 733,965 738.8,966.2 737,972 732.5,977 733.2,987.5 737,989.8 734.8,994.2 715.2,1008.5 704,1012.2 689.8,1010.8 671.8,1010 664.2,997.2 661.2,981.2 665,977 662,970 656.9,962.5" fill="#fff" stroke="#000" stroke-width="1.2"/>
<polyline points="701.9,930 699,936 666.5,953" fill="none" stroke="#000" stroke-width="1.5"/>
<polyline points="707.5,929.5 724.4,931" fill="none" stroke="#000" stroke-width="2"/>
<ellipse cx="693" cy="965" rx="27.5" ry="19" fill="#fff" stroke="#000" stroke-width="3" transform="rotate(-25 693 965)"/>
<ellipse cx="693" cy="965" rx="24.5" ry="16.5" fill="none" stroke="#000" stroke-width="1" transform="rotate(-25 693 965)"/>
<line x1="674.4" y1="960" x2="715.6" y2="953" stroke="#000" stroke-width="1.8"/>
<line x1="670.6" y1="976.9" x2="716" y2="962" stroke="#000" stroke-width="1.8"/>
<line x1="684.4" y1="955" x2="703" y2="968.8" stroke="#000" stroke-width="3.2"/>
<line x1="698.8" y1="948" x2="688.8" y2="982.5" stroke="#000" stroke-width="2.2"/>
<line x1="676" y1="983" x2="712" y2="948" stroke="#000" stroke-width="1.5"/>
<ellipse cx="693" cy="965" rx="4" ry="3" fill="#000" stroke="#000" stroke-width="1" transform="rotate(-25 693 965)"/>
<polyline points="661.2,981.2 690,990 731,970" fill="none" stroke="#000" stroke-width="1"/>
<polyline points="664,986 690,995 733,975" fill="none" stroke="#000" stroke-width="1"/>
<polyline points="690.5,980 712.2,981 712,1000 695,1002.5 690.5,995 690.5,980" fill="#fff" stroke="#000" stroke-width="1"/>
<ellipse cx="702.5" cy="988.2" rx="4" ry="2.8" fill="none" stroke="#000" stroke-width="1.3" transform="rotate(-20 702.5 988.2)"/>
<polyline points="715.2,1008.5 712,1000" fill="none" stroke="#000" stroke-width="1"/>
<polyline points="664.2,997.2 671,991 690,992" fill="none" stroke="#000" stroke-width="1"/>
<ellipse cx="662.5" cy="961.2" rx="3.5" ry="2.4" fill="none" stroke="#000" stroke-width="1.4" transform="rotate(-25 662.5 961.2)"/>
<ellipse cx="665.6" cy="980" rx="3.5" ry="2.4" fill="none" stroke="#000" stroke-width="1.4" transform="rotate(-25 665.6 980)"/>
<ellipse cx="725" cy="949.4" rx="3.5" ry="2.4" fill="none" stroke="#000" stroke-width="1.4" transform="rotate(-25 725 949.4)"/>
<ellipse cx="728.8" cy="939.4" rx="3.5" ry="2.4" fill="none" stroke="#000" stroke-width="1.4" transform="rotate(-25 728.8 939.4)"/>
<ellipse cx="723" cy="965" rx="3.5" ry="2.4" fill="none" stroke="#000" stroke-width="1.4" transform="rotate(-25 723 965)"/>
<ellipse cx="704.5" cy="930" rx="4" ry="3" fill="none" stroke="#000" stroke-width="1.4"/>
<line x1="672" y1="1002" x2="680" y2="1010" stroke="#000" stroke-width="2.5"/>
<line x1="676" y1="1000" x2="684" y2="1008" stroke="#000" stroke-width="2"/>
<line x1="690.5" y1="1011.5" x2="707" y2="1039.2" stroke="#000" stroke-width="1"/>
<ellipse cx="696.5" cy="1019.8" rx="3.2" ry="2.5" fill="#fff" stroke="#000" stroke-width="1.5" transform="rotate(-20 696.5 1019.8)"/>
<line x1="700.2" y1="1028.8" x2="705.5" y2="1036.8" stroke="#000" stroke-width="4.2"/>
<polyline points="710.4,1039.9 708.2,1042.5 704.8,1041.9 703.6,1038.6 705.8,1036 709.2,1036.6 710.4,1039.9" fill="#fff" stroke="#000" stroke-width="1.6"/>
<line x1="715.2" y1="1008.5" x2="732.5" y2="1038.5" stroke="#000" stroke-width="1"/>
<ellipse cx="719.8" cy="1017.5" rx="3.2" ry="2.5" fill="#fff" stroke="#000" stroke-width="1.5" transform="rotate(-20 719.8 1017.5)"/>
<line x1="725" y1="1027.2" x2="731" y2="1036" stroke="#000" stroke-width="4.2"/>
<polyline points="735.9,1039.1 733.7,1041.8 730.3,1041.2 729.1,1037.9 731.3,1035.2 734.7,1035.8 735.9,1039.1" fill="#fff" stroke="#000" stroke-width="1.6"/>
<line x1="733" y1="965" x2="749" y2="989.8" stroke="#000" stroke-width="1"/>
<ellipse cx="736.5" cy="970" rx="3.2" ry="2.5" fill="#fff" stroke="#000" stroke-width="1.5" transform="rotate(-20 736.5 970)"/>
<line x1="741.5" y1="978.5" x2="747.5" y2="987.2" stroke="#000" stroke-width="4.2"/>
<polyline points="752.4,990.4 750.2,993 746.8,992.4 745.6,989.1 747.8,986.5 751.2,987.1 752.4,990.4" fill="#fff" stroke="#000" stroke-width="1.6"/>
</svg>
</body></html>
